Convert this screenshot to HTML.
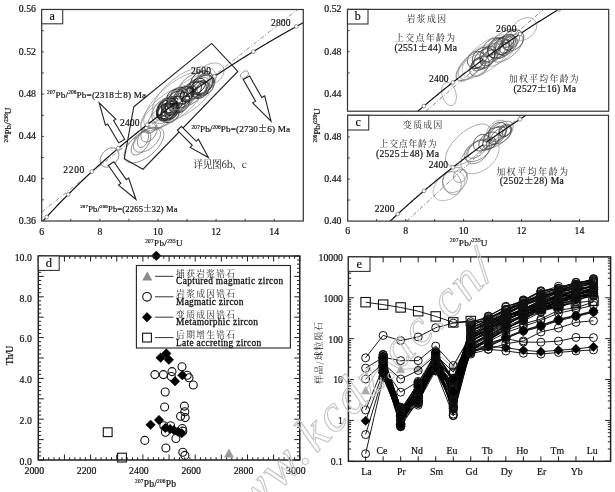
<!DOCTYPE html>
<html><head><meta charset="utf-8"><style>html,body{margin:0;padding:0;background:#fff;}svg{display:block;filter:blur(0.3px);}html,body{overflow:hidden;}</style></head>
<body>
<svg width="615" height="492" viewBox="0 0 615 492" font-family="'Liberation Serif','Noto Serif CJK SC',serif">
<rect width="615" height="492" fill="#fff"/>
<clipPath id="ca"><rect x="41.7" y="9.5" width="261.6" height="211.5"/></clipPath>
<g clip-path="url(#ca)">
<line x1="41.8" y1="211.8" x2="297.5" y2="9.5" stroke="#777" stroke-width="0.8" stroke-dasharray="4,2,1,2"/>
<ellipse cx="178.75" cy="95.29" rx="9.29" ry="6.9" transform="rotate(-41.19 178.75 95.29)" stroke="#151515" stroke-width="0.8" fill="none"/>
<ellipse cx="170.19" cy="104.97" rx="9.57" ry="7.43" transform="rotate(-38.11 170.19 104.97)" stroke="#151515" stroke-width="0.8" fill="none"/>
<ellipse cx="167.7" cy="108.69" rx="11.36" ry="9.02" transform="rotate(-49.37 167.7 108.69)" stroke="#151515" stroke-width="0.8" fill="none"/>
<ellipse cx="203.32" cy="84.92" rx="12.29" ry="9.62" transform="rotate(-40.77 203.32 84.92)" stroke="#151515" stroke-width="0.8" fill="none"/>
<ellipse cx="171.88" cy="109.34" rx="6.86" ry="4.48" transform="rotate(-46.37 171.88 109.34)" stroke="#151515" stroke-width="0.8" fill="none"/>
<ellipse cx="165.66" cy="110.92" rx="9.28" ry="6.72" transform="rotate(-37.36 165.66 110.92)" stroke="#151515" stroke-width="0.8" fill="none"/>
<ellipse cx="183.16" cy="95.83" rx="10.47" ry="7.63" transform="rotate(-45.83 183.16 95.83)" stroke="#151515" stroke-width="0.8" fill="none"/>
<ellipse cx="202.21" cy="82.16" rx="12.47" ry="10.42" transform="rotate(-39.38 202.21 82.16)" stroke="#151515" stroke-width="0.8" fill="none"/>
<ellipse cx="176.39" cy="103" rx="6.92" ry="5.64" transform="rotate(-43.99 176.39 103)" stroke="#151515" stroke-width="0.8" fill="none"/>
<ellipse cx="198.3" cy="89.44" rx="8.82" ry="7.66" transform="rotate(-37.29 198.3 89.44)" stroke="#151515" stroke-width="0.8" fill="none"/>
<ellipse cx="165.14" cy="112.5" rx="9.32" ry="8.15" transform="rotate(-44.04 165.14 112.5)" stroke="#151515" stroke-width="0.8" fill="none"/>
<ellipse cx="169.91" cy="113.27" rx="10.28" ry="8.41" transform="rotate(-45.95 169.91 113.27)" stroke="#151515" stroke-width="0.8" fill="none"/>
<ellipse cx="165.94" cy="106.89" rx="11.05" ry="6.99" transform="rotate(-46.3 165.94 106.89)" stroke="#151515" stroke-width="0.8" fill="none"/>
<ellipse cx="171.11" cy="112.7" rx="6.86" ry="5.65" transform="rotate(-47.33 171.11 112.7)" stroke="#151515" stroke-width="0.8" fill="none"/>
<ellipse cx="184.91" cy="94.95" rx="10.89" ry="6.93" transform="rotate(-40.34 184.91 94.95)" stroke="#151515" stroke-width="0.8" fill="none"/>
<ellipse cx="169.01" cy="108.7" rx="9.02" ry="5.95" transform="rotate(-45.95 169.01 108.7)" stroke="#151515" stroke-width="0.8" fill="none"/>
<ellipse cx="202.68" cy="85" rx="11.81" ry="7.78" transform="rotate(-44.09 202.68 85)" stroke="#151515" stroke-width="0.8" fill="none"/>
<ellipse cx="196.47" cy="86.36" rx="10.35" ry="6.5" transform="rotate(-35.16 196.47 86.36)" stroke="#151515" stroke-width="0.8" fill="none"/>
<ellipse cx="172.25" cy="105.49" rx="8.47" ry="5.79" transform="rotate(-48.9 172.25 105.49)" stroke="#151515" stroke-width="0.8" fill="none"/>
<ellipse cx="170.01" cy="112.08" rx="10" ry="6.68" transform="rotate(-40.98 170.01 112.08)" stroke="#151515" stroke-width="0.8" fill="none"/>
<ellipse cx="175.23" cy="96.99" rx="9.4" ry="7.15" transform="rotate(-37 175.23 96.99)" stroke="#151515" stroke-width="0.8" fill="none"/>
<ellipse cx="172.19" cy="107.78" rx="7.42" ry="6.34" transform="rotate(-37.73 172.19 107.78)" stroke="#151515" stroke-width="0.8" fill="none"/>
<ellipse cx="174.54" cy="105.71" rx="12.14" ry="7.95" transform="rotate(-35.75 174.54 105.71)" stroke="#151515" stroke-width="0.8" fill="none"/>
<ellipse cx="200.68" cy="89.68" rx="10.12" ry="7.27" transform="rotate(-48.44 200.68 89.68)" stroke="#151515" stroke-width="0.8" fill="none"/>
<ellipse cx="166.78" cy="111.74" rx="10.73" ry="7.21" transform="rotate(-37.64 166.78 111.74)" stroke="#151515" stroke-width="0.8" fill="none"/>
<ellipse cx="186.97" cy="94.69" rx="8.26" ry="5.36" transform="rotate(-39.19 186.97 94.69)" stroke="#151515" stroke-width="0.8" fill="none"/>
<ellipse cx="167.18" cy="109.95" rx="11.61" ry="8.97" transform="rotate(-45.8 167.18 109.95)" stroke="#151515" stroke-width="0.8" fill="none"/>
<ellipse cx="201.78" cy="88.24" rx="7.72" ry="4.67" transform="rotate(-45.96 201.78 88.24)" stroke="#151515" stroke-width="0.8" fill="none"/>
<ellipse cx="182.05" cy="100.21" rx="8.71" ry="6.62" transform="rotate(-48.03 182.05 100.21)" stroke="#151515" stroke-width="0.8" fill="none"/>
<ellipse cx="178.36" cy="101.92" rx="11.85" ry="10.36" transform="rotate(-40.15 178.36 101.92)" stroke="#151515" stroke-width="0.8" fill="none"/>
<ellipse cx="190.33" cy="91.51" rx="6.71" ry="4.06" transform="rotate(-36.35 190.33 91.51)" stroke="#151515" stroke-width="0.8" fill="none"/>
<ellipse cx="190.98" cy="91.58" rx="12.28" ry="7.44" transform="rotate(-40.46 190.98 91.58)" stroke="#151515" stroke-width="0.8" fill="none"/>
<ellipse cx="183.32" cy="98.3" rx="16.84" ry="8.65" transform="rotate(-39.81 183.32 98.3)" stroke="#555" stroke-width="0.6" fill="none"/>
<ellipse cx="194.26" cy="85.93" rx="18.2" ry="10.87" transform="rotate(-34.27 194.26 85.93)" stroke="#555" stroke-width="0.6" fill="none"/>
<ellipse cx="177.61" cy="101.37" rx="16.48" ry="10.39" transform="rotate(-36.14 177.61 101.37)" stroke="#555" stroke-width="0.6" fill="none"/>
<ellipse cx="199.84" cy="86.64" rx="15.58" ry="8.96" transform="rotate(-38.87 199.84 86.64)" stroke="#555" stroke-width="0.6" fill="none"/>
<ellipse cx="165.67" cy="110.14" rx="16.12" ry="10.45" transform="rotate(-42.17 165.67 110.14)" stroke="#555" stroke-width="0.6" fill="none"/>
<ellipse cx="195.62" cy="88.69" rx="15.65" ry="8.42" transform="rotate(-36.75 195.62 88.69)" stroke="#555" stroke-width="0.6" fill="none"/>
<ellipse cx="161.37" cy="117.18" rx="15.81" ry="8.64" transform="rotate(-40.54 161.37 117.18)" stroke="#555" stroke-width="0.6" fill="none"/>
<ellipse cx="190.78" cy="93.77" rx="18.36" ry="9.2" transform="rotate(-37.83 190.78 93.77)" stroke="#555" stroke-width="0.6" fill="none"/>
<ellipse cx="167.89" cy="106.27" rx="12.36" ry="7.8" transform="rotate(-34.62 167.89 106.27)" stroke="#555" stroke-width="0.6" fill="none"/>
<ellipse cx="176" cy="100" rx="40" ry="16" transform="rotate(-40 176 100)" stroke="#888" stroke-width="0.6" fill="none"/>
<ellipse cx="168" cy="108" rx="33" ry="13" transform="rotate(-38 168 108)" stroke="#888" stroke-width="0.6" fill="none"/>
<ellipse cx="190" cy="92" rx="26" ry="11" transform="rotate(-36 190 92)" stroke="#888" stroke-width="0.6" fill="none"/>
<ellipse cx="211" cy="74" rx="14" ry="10" transform="rotate(-30 211 74)" stroke="#888" stroke-width="0.6" fill="none"/>
<ellipse cx="158" cy="116" rx="22" ry="10" transform="rotate(-44 158 116)" stroke="#888" stroke-width="0.6" fill="none"/>
<ellipse cx="184" cy="94" rx="38" ry="18" transform="rotate(-38 184 94)" stroke="#888" stroke-width="0.6" fill="none"/>
<ellipse cx="144" cy="145" rx="24" ry="12" transform="rotate(-40 144 145)" stroke="#666" stroke-width="0.65" fill="none"/>
<ellipse cx="147" cy="140" rx="16" ry="9" transform="rotate(-40 147 140)" stroke="#666" stroke-width="0.65" fill="none"/>
<ellipse cx="143" cy="139" rx="9" ry="5" transform="rotate(-70 143 139)" stroke="#666" stroke-width="0.65" fill="none"/>
<ellipse cx="149" cy="132" rx="11" ry="7" transform="rotate(-60 149 132)" stroke="#666" stroke-width="0.65" fill="none"/>
<ellipse cx="150" cy="128" rx="6" ry="5" transform="rotate(-30 150 128)" stroke="#666" stroke-width="0.65" fill="none"/>
<ellipse cx="141" cy="143" rx="14" ry="7" transform="rotate(-55 141 143)" stroke="#666" stroke-width="0.65" fill="none"/>
<ellipse cx="109.5" cy="157.5" rx="11" ry="8" transform="rotate(-48 109.5 157.5)" stroke="#666" stroke-width="0.7" fill="none"/>
<ellipse cx="244.4" cy="74.6" rx="4.6" ry="2.9" transform="rotate(-35 244.4 74.6)" stroke="#777" stroke-width="0.7" fill="none"/>
<polyline points="42.53,221.48 43.54,220.37 44.56,219.25 45.57,218.14 46.6,217.02 47.63,215.9 48.66,214.78 49.7,213.66 50.74,212.54 51.79,211.41 52.85,210.29 53.91,209.17 54.97,208.04 56.04,206.91 57.12,205.79 58.2,204.66 59.28,203.53 60.37,202.4 61.47,201.27 62.57,200.14 63.68,199.01 64.79,197.88 65.91,196.74 67.03,195.61 68.16,194.47 69.3,193.33 70.44,192.2 71.59,191.06 72.74,189.92 73.9,188.78 75.06,187.64 76.23,186.5 77.4,185.35 78.58,184.21 79.77,183.07 80.96,181.92 82.16,180.77 83.36,179.63 84.57,178.48 85.79,177.33 87.01,176.18 88.24,175.03 89.47,173.88 90.71,172.73 91.96,171.57 93.21,170.42 94.47,169.26 95.74,168.11 97.01,166.95 98.29,165.79 99.57,164.63 100.86,163.47 102.16,162.31 103.46,161.15 104.77,159.99 106.08,158.83 107.41,157.66 108.73,156.5 110.07,155.33 111.41,154.16 112.76,153 114.12,151.83 115.48,150.66 116.85,149.49 118.22,148.32 119.6,147.14 120.99,145.97 122.39,144.8 123.79,143.62 125.2,142.44 126.62,141.27 128.04,140.09 129.47,138.91 130.91,137.73 132.35,136.55 133.81,135.37 135.26,134.19 136.73,133 138.2,131.82 139.69,130.63 141.17,129.45 142.67,128.26 144.17,127.07 145.68,125.89 147.2,124.7 148.72,123.5 150.26,122.31 151.8,121.12 153.35,119.93 154.9,118.73 156.46,117.54 158.04,116.34 159.61,115.14 161.2,113.95 162.79,112.75 164.4,111.55 166.01,110.35 167.62,109.14 169.25,107.94 170.88,106.74 172.53,105.53 174.18,104.33 175.84,103.12 177.5,101.91 179.18,100.71 180.86,99.5 182.55,98.29 184.25,97.08 185.96,95.86 187.68,94.65 189.4,93.44 191.13,92.22 192.88,91.01 194.63,89.79 196.39,88.57 198.15,87.35 199.93,86.13 201.72,84.91 203.51,83.69 205.31,82.47 207.13,81.24 208.95,80.02 210.78,78.79 212.62,77.57 214.46,76.34 216.32,75.11 218.19,73.88 220.06,72.65 221.95,71.42 223.84,70.19 225.75,68.96 227.66,67.72 229.58,66.49 231.51,65.25 233.45,64.02 235.41,62.78 237.37,61.54 239.34,60.3 241.32,59.06 243.31,57.82 245.31,56.58 247.31,55.33 249.33,54.09 251.36,52.84 253.4,51.6 255.45,50.35 257.51,49.1 259.58,47.85 261.66,46.6 263.75,45.35 265.85,44.1 267.96,42.84 270.08,41.59 272.22,40.33 274.36,39.08 276.51,37.82 278.68,36.56 280.85,35.3 283.03,34.04 285.23,32.78 287.44,31.52 289.65,30.26 291.88,28.99 294.12,27.73 296.37,26.46 298.63,25.2 300.91,23.93 303.19,22.66 305.49,21.39 307.79,20.12 310.11,18.85 312.44,17.57 314.78,16.3 317.13,15.03 319.5,13.75 321.87,12.47 324.26,11.2 326.66,9.92 329.07,8.64 331.49,7.36 333.93,6.07 336.37,4.79 338.83,3.51 341.31,2.22 343.79,0.94" stroke="#111" stroke-width="1.2" fill="none" />
<circle cx="46.6" cy="217.02" r="1.9" fill="#fff" stroke="#555" stroke-width="0.6"/>
<circle cx="68.16" cy="194.47" r="1.9" fill="#fff" stroke="#555" stroke-width="0.6"/>
<circle cx="91.96" cy="171.57" r="1.9" fill="#fff" stroke="#555" stroke-width="0.6"/>
<circle cx="118.22" cy="148.32" r="1.9" fill="#fff" stroke="#555" stroke-width="0.6"/>
<circle cx="147.2" cy="124.7" r="1.9" fill="#fff" stroke="#555" stroke-width="0.6"/>
<circle cx="179.18" cy="100.71" r="1.9" fill="#fff" stroke="#555" stroke-width="0.6"/>
<circle cx="214.46" cy="76.34" r="1.9" fill="#fff" stroke="#555" stroke-width="0.6"/>
<circle cx="253.4" cy="51.6" r="1.9" fill="#fff" stroke="#555" stroke-width="0.6"/>
<circle cx="296.37" cy="26.46" r="1.9" fill="#fff" stroke="#555" stroke-width="0.6"/>
</g>
<polygon points="133.8,106.8 211.7,43.4 237.8,71.4 143,169.2 124.3,158.7" stroke="#222" stroke-width="1.1" fill="none" />
<polygon points="99.2,102.8 105.42,125.24 107.58,123.97 118.68,142.87 124.72,139.33 113.61,120.43 115.77,119.16" stroke="#222" stroke-width="1.1" fill="#fff" />
<polygon points="271,121.1 264.65,95.95 261.78,97.58 249.53,76.02 243.27,79.58 255.52,101.14 252.65,102.77" stroke="#222" stroke-width="1.1" fill="#fff" />
<polygon points="208.4,157.5 198.42,139.22 196.29,141.34 181.39,126.33 177.41,130.27 192.32,145.28 190.19,147.4" stroke="#222" stroke-width="1.1" fill="#fff" />
<polygon points="135.9,199.3 128.67,178.02 126.29,179.68 113.81,161.72 108.39,165.48 120.87,183.44 118.48,185.1" stroke="#222" stroke-width="1.1" fill="#fff" />
<rect x="41.7" y="9.5" width="261.6" height="211.5" fill="none" stroke="#333" stroke-width="1.2"/>
<line x1="70.77" y1="221" x2="70.77" y2="218.8" stroke="#333" stroke-width="0.9" />
<line x1="99.83" y1="221" x2="99.83" y2="218.8" stroke="#333" stroke-width="0.9" />
<line x1="128.9" y1="221" x2="128.9" y2="218.8" stroke="#333" stroke-width="0.9" />
<line x1="157.97" y1="221" x2="157.97" y2="218.8" stroke="#333" stroke-width="0.9" />
<line x1="187.03" y1="221" x2="187.03" y2="218.8" stroke="#333" stroke-width="0.9" />
<line x1="216.1" y1="221" x2="216.1" y2="218.8" stroke="#333" stroke-width="0.9" />
<line x1="245.17" y1="221" x2="245.17" y2="218.8" stroke="#333" stroke-width="0.9" />
<line x1="274.23" y1="221" x2="274.23" y2="218.8" stroke="#333" stroke-width="0.9" />
<line x1="41.7" y1="199.85" x2="43.9" y2="199.85" stroke="#333" stroke-width="0.9" />
<line x1="41.7" y1="178.7" x2="43.9" y2="178.7" stroke="#333" stroke-width="0.9" />
<line x1="41.7" y1="157.55" x2="43.9" y2="157.55" stroke="#333" stroke-width="0.9" />
<line x1="41.7" y1="136.4" x2="43.9" y2="136.4" stroke="#333" stroke-width="0.9" />
<line x1="41.7" y1="115.25" x2="43.9" y2="115.25" stroke="#333" stroke-width="0.9" />
<line x1="41.7" y1="94.1" x2="43.9" y2="94.1" stroke="#333" stroke-width="0.9" />
<line x1="41.7" y1="72.95" x2="43.9" y2="72.95" stroke="#333" stroke-width="0.9" />
<line x1="41.7" y1="51.8" x2="43.9" y2="51.8" stroke="#333" stroke-width="0.9" />
<line x1="41.7" y1="30.65" x2="43.9" y2="30.65" stroke="#333" stroke-width="0.9" />
<rect x="41.7" y="9.5" width="21" height="14.3" fill="#fff" stroke="#333" stroke-width="1.1"/>
<text x="52.2" y="20.25" font-size="12" text-anchor="middle" fill="#111" stroke="#111" stroke-width="0.2" >a</text>
<text x="36" y="12.3" font-size="9.8" text-anchor="end" fill="#111" stroke="#111" stroke-width="0.2" >0.56</text>
<text x="36" y="54.6" font-size="9.8" text-anchor="end" fill="#111" stroke="#111" stroke-width="0.2" >0.52</text>
<text x="36" y="96.9" font-size="9.8" text-anchor="end" fill="#111" stroke="#111" stroke-width="0.2" >0.48</text>
<text x="36" y="139.2" font-size="9.8" text-anchor="end" fill="#111" stroke="#111" stroke-width="0.2" >0.44</text>
<text x="36" y="181.5" font-size="9.8" text-anchor="end" fill="#111" stroke="#111" stroke-width="0.2" >0.40</text>
<text x="36" y="223.8" font-size="9.8" text-anchor="end" fill="#111" stroke="#111" stroke-width="0.2" >0.36</text>
<text x="41.7" y="235.2" font-size="9.8" text-anchor="middle" fill="#111" stroke="#111" stroke-width="0.2" >6</text>
<text x="99.83" y="235.2" font-size="9.8" text-anchor="middle" fill="#111" stroke="#111" stroke-width="0.2" >8</text>
<text x="157.97" y="235.2" font-size="9.8" text-anchor="middle" fill="#111" stroke="#111" stroke-width="0.2" >10</text>
<text x="216.1" y="235.2" font-size="9.8" text-anchor="middle" fill="#111" stroke="#111" stroke-width="0.2" >12</text>
<text x="274.23" y="235.2" font-size="9.8" text-anchor="middle" fill="#111" stroke="#111" stroke-width="0.2" >14</text>
<text x="145.2" y="246" font-size="9.2" text-anchor="start" fill="#111" stroke="#111" stroke-width="0.2" textLength="37.4"><tspan font-size="5.2" dy="-3.5">207</tspan><tspan dy="3.5">Pb/</tspan><tspan font-size="5.2" dy="-3.5">235</tspan><tspan dy="3.5">U</tspan></text>
<g transform="translate(11.2,142.5) rotate(-90)">
<text x="0" y="0" font-size="9.2" text-anchor="start" fill="#111" stroke="#111" stroke-width="0.2" textLength="35"><tspan font-size="5.2" dy="-3.5">206</tspan><tspan dy="3.5">Pb/</tspan><tspan font-size="5.2" dy="-3.5">238</tspan><tspan dy="3.5">U</tspan></text>
</g>
<text x="63.3" y="172.5" font-size="9.5" text-anchor="start" fill="#111" stroke="#111" stroke-width="0.2" textLength="21">2200</text>
<text x="120" y="126" font-size="9.5" text-anchor="start" fill="#111" stroke="#111" stroke-width="0.2" textLength="19.5">2400</text>
<text x="191" y="73.5" font-size="9.5" text-anchor="start" fill="#111" stroke="#111" stroke-width="0.2" textLength="20">2600</text>
<text x="271" y="26" font-size="9.5" text-anchor="start" fill="#111" stroke="#111" stroke-width="0.2" textLength="19.5">2800</text>
<text x="47.1" y="97.7" font-size="9.2" text-anchor="start" fill="#111" stroke="#111" stroke-width="0.2" textLength="99"><tspan font-size="5.3" dy="-3.5">207</tspan><tspan dy="3.5">Pb/</tspan><tspan font-size="5.3" dy="-3.5">206</tspan><tspan dy="3.5">Pb=(2318<tspan font-family="'Noto Serif CJK SC','Liberation Serif',serif">±</tspan>8) Ma</tspan></text>
<text x="191.6" y="132.4" font-size="9.2" text-anchor="start" fill="#111" stroke="#111" stroke-width="0.2" textLength="98.4"><tspan font-size="5.3" dy="-3.5">207</tspan><tspan dy="3.5">Pb/</tspan><tspan font-size="5.3" dy="-3.5">206</tspan><tspan dy="3.5">Pb=(2730<tspan font-family="'Noto Serif CJK SC','Liberation Serif',serif">±</tspan>6) Ma</tspan></text>
<text x="80.2" y="211.6" font-size="8.6" text-anchor="start" fill="#111" stroke="#111" stroke-width="0.2" textLength="97.5"><tspan font-size="5.0" dy="-3.27">207</tspan><tspan dy="3.27">Pb/</tspan><tspan font-size="5.0" dy="-3.27">206</tspan><tspan dy="3.27">Pb=(2265<tspan font-family="'Noto Serif CJK SC','Liberation Serif',serif">±</tspan>32) Ma</tspan></text>
<text x="193.3" y="168" font-size="9.8" font-family="'Noto Serif CJK SC','Liberation Serif',serif" fill="#111" textLength="53.7">详见图6b、c</text>
<clipPath id="cb"><rect x="347.5" y="9.4" width="261.20000000000005" height="101.8"/></clipPath>
<g clip-path="url(#cb)">
<line x1="426" y1="111.2" x2="543.5" y2="9.4" stroke="#666" stroke-width="0.8" stroke-dasharray="4,2,1,2"/>
<ellipse cx="498.86" cy="48.12" rx="12.15" ry="9.81" transform="rotate(-36.17 498.86 48.12)" stroke="#333" stroke-width="0.7" fill="none"/>
<ellipse cx="476.09" cy="59.84" rx="9.29" ry="8.03" transform="rotate(-40.27 476.09 59.84)" stroke="#333" stroke-width="0.7" fill="none"/>
<ellipse cx="510.15" cy="42.85" rx="7.98" ry="6" transform="rotate(-41.39 510.15 42.85)" stroke="#333" stroke-width="0.7" fill="none"/>
<ellipse cx="478.88" cy="64.65" rx="7.8" ry="5.29" transform="rotate(-36.25 478.88 64.65)" stroke="#333" stroke-width="0.7" fill="none"/>
<ellipse cx="505.37" cy="46.42" rx="7.33" ry="5.67" transform="rotate(-48.1 505.37 46.42)" stroke="#333" stroke-width="0.7" fill="none"/>
<ellipse cx="479.52" cy="66.29" rx="11.73" ry="7.72" transform="rotate(-46.77 479.52 66.29)" stroke="#333" stroke-width="0.7" fill="none"/>
<ellipse cx="512.78" cy="40.33" rx="12.27" ry="9.21" transform="rotate(-39.83 512.78 40.33)" stroke="#333" stroke-width="0.7" fill="none"/>
<ellipse cx="483.61" cy="57.59" rx="12.15" ry="9.64" transform="rotate(-35.5 483.61 57.59)" stroke="#333" stroke-width="0.7" fill="none"/>
<ellipse cx="508.39" cy="41.03" rx="7.5" ry="4.8" transform="rotate(-49.02 508.39 41.03)" stroke="#333" stroke-width="0.7" fill="none"/>
<ellipse cx="488.9" cy="57.84" rx="10.12" ry="6.08" transform="rotate(-39.83 488.9 57.84)" stroke="#333" stroke-width="0.7" fill="none"/>
<ellipse cx="488.07" cy="54.15" rx="9.38" ry="6.46" transform="rotate(-42.78 488.07 54.15)" stroke="#333" stroke-width="0.7" fill="none"/>
<ellipse cx="504.17" cy="49.27" rx="6.84" ry="5.97" transform="rotate(-49.66 504.17 49.27)" stroke="#333" stroke-width="0.7" fill="none"/>
<ellipse cx="503.67" cy="45.31" rx="11.23" ry="7.89" transform="rotate(-41.32 503.67 45.31)" stroke="#333" stroke-width="0.7" fill="none"/>
<ellipse cx="477.57" cy="63.18" rx="6.78" ry="4.41" transform="rotate(-35.67 477.57 63.18)" stroke="#333" stroke-width="0.7" fill="none"/>
<ellipse cx="484.22" cy="58.98" rx="12.15" ry="8.46" transform="rotate(-44.68 484.22 58.98)" stroke="#333" stroke-width="0.7" fill="none"/>
<ellipse cx="492.46" cy="46.66" rx="11.15" ry="7.03" transform="rotate(-38.77 492.46 46.66)" stroke="#333" stroke-width="0.7" fill="none"/>
<ellipse cx="505.48" cy="44.25" rx="12.17" ry="7.62" transform="rotate(-44.89 505.48 44.25)" stroke="#333" stroke-width="0.7" fill="none"/>
<ellipse cx="498.27" cy="48.21" rx="12.01" ry="8.35" transform="rotate(-36.14 498.27 48.21)" stroke="#333" stroke-width="0.7" fill="none"/>
<ellipse cx="495.63" cy="51.6" rx="13.5" ry="6.93" transform="rotate(-45.77 495.63 51.6)" stroke="#555" stroke-width="0.6" fill="none"/>
<ellipse cx="507.41" cy="48.08" rx="18.97" ry="9.15" transform="rotate(-40 507.41 48.08)" stroke="#555" stroke-width="0.6" fill="none"/>
<ellipse cx="490.09" cy="53.31" rx="12.9" ry="7.34" transform="rotate(-41.67 490.09 53.31)" stroke="#555" stroke-width="0.6" fill="none"/>
<ellipse cx="470.14" cy="66.43" rx="18.33" ry="8.37" transform="rotate(-46.04 470.14 66.43)" stroke="#555" stroke-width="0.6" fill="none"/>
<ellipse cx="503.98" cy="44.04" rx="18.6" ry="10.71" transform="rotate(-41.48 503.98 44.04)" stroke="#555" stroke-width="0.6" fill="none"/>
<ellipse cx="478" cy="62" rx="24" ry="11" transform="rotate(-40 478 62)" stroke="#888" stroke-width="0.6" fill="none"/>
<ellipse cx="470" cy="68" rx="17" ry="8" transform="rotate(-45 470 68)" stroke="#888" stroke-width="0.6" fill="none"/>
<ellipse cx="524" cy="29" rx="14" ry="10" transform="rotate(-35 524 29)" stroke="#888" stroke-width="0.6" fill="none"/>
<ellipse cx="449" cy="94" rx="7" ry="12" transform="rotate(-15 449 94)" stroke="#888" stroke-width="0.6" fill="none"/>
<ellipse cx="487" cy="56" rx="30" ry="13" transform="rotate(-38 487 56)" stroke="#999" stroke-width="0.6" fill="none"/>
<ellipse cx="500" cy="52" rx="20" ry="9" transform="rotate(-40 500 52)" stroke="#888" stroke-width="0.6" fill="none"/>
<polyline points="410.47,117.72 411.79,116.55 413.11,115.39 414.43,114.22 415.77,113.05 417.11,111.88 418.45,110.72 419.8,109.55 421.16,108.37 422.53,107.2 423.9,106.03 425.28,104.86 426.67,103.68 428.06,102.51 429.47,101.33 430.87,100.15 432.29,98.97 433.71,97.79 435.14,96.61 436.57,95.43 438.02,94.25 439.46,93.07 440.92,91.88 442.39,90.7 443.86,89.51 445.34,88.33 446.82,87.14 448.31,85.95 449.81,84.76 451.32,83.57 452.84,82.38 454.36,81.19 455.89,80 457.43,78.8 458.97,77.61 460.53,76.41 462.09,75.22 463.66,74.02 465.23,72.82 466.82,71.62 468.41,70.42 470.01,69.22 471.62,68.02 473.23,66.81 474.86,65.61 476.49,64.4 478.13,63.2 479.77,61.99 481.43,60.78 483.09,59.57 484.77,58.36 486.45,57.15 488.14,55.94 489.83,54.73 491.54,53.52 493.25,52.3 494.97,51.09 496.71,49.87 498.44,48.65 500.19,47.43 501.95,46.21 503.71,44.99 505.49,43.77 507.27,42.55 509.06,41.33 510.86,40.1 512.67,38.88 514.49,37.65 516.32,36.43 518.15,35.2 520,33.97 521.85,32.74 523.72,31.51 525.59,30.28 527.47,29.05 529.36,27.81 531.26,26.58 533.17,25.34 535.09,24.11 537.02,22.87 538.96,21.63 540.91,20.39 542.87,19.15 544.83,17.91 546.81,16.67 548.8,15.43 550.79,14.18 552.8,12.94 554.82,11.69 556.84,10.44 558.88,9.2 560.93,7.95 562.98,6.7 565.05,5.45 567.13,4.19 569.21,2.94 571.31,1.69 573.42,0.43 575.54,-0.82 577.66,-2.08 579.8,-3.34 581.95,-4.6 584.11,-5.86 586.28,-7.12 588.47,-8.38 590.66,-9.64 592.86,-10.9 595.07,-12.17 597.3,-13.43 599.54,-14.7 601.78,-15.97" stroke="#111" stroke-width="1.2" fill="none" />
<circle cx="352.39" cy="174.81" r="1.9" fill="#fff" stroke="#555" stroke-width="0.6"/>
<circle cx="373.92" cy="152.24" r="1.9" fill="#fff" stroke="#555" stroke-width="0.6"/>
<circle cx="397.68" cy="129.31" r="1.9" fill="#fff" stroke="#555" stroke-width="0.6"/>
<circle cx="423.9" cy="106.03" r="1.9" fill="#fff" stroke="#555" stroke-width="0.6"/>
<circle cx="452.84" cy="82.38" r="1.9" fill="#fff" stroke="#555" stroke-width="0.6"/>
<circle cx="484.77" cy="58.36" r="1.9" fill="#fff" stroke="#555" stroke-width="0.6"/>
<circle cx="520" cy="33.97" r="1.9" fill="#fff" stroke="#555" stroke-width="0.6"/>
<circle cx="558.88" cy="9.2" r="1.9" fill="#fff" stroke="#555" stroke-width="0.6"/>
<circle cx="601.78" cy="-15.97" r="1.9" fill="#fff" stroke="#555" stroke-width="0.6"/>
</g>
<rect x="347.5" y="9.4" width="261.2" height="101.8" fill="none" stroke="#333" stroke-width="1.2"/>
<line x1="347.5" y1="72.92" x2="349.7" y2="72.92" stroke="#333" stroke-width="0.9" />
<line x1="347.5" y1="51.75" x2="349.7" y2="51.75" stroke="#333" stroke-width="0.9" />
<line x1="347.5" y1="30.57" x2="349.7" y2="30.57" stroke="#333" stroke-width="0.9" />
<line x1="347.5" y1="9.4" x2="349.7" y2="9.4" stroke="#333" stroke-width="0.9" />
<rect x="347.5" y="9.4" width="20.5" height="14.6" fill="#fff" stroke="#333" stroke-width="1.1"/>
<text x="357.75" y="20.3" font-size="12" text-anchor="middle" fill="#111" stroke="#111" stroke-width="0.2" >b</text>
<text x="341.5" y="12.2" font-size="9.8" text-anchor="end" fill="#111" stroke="#111" stroke-width="0.2" >0.52</text>
<text x="341.5" y="54.55" font-size="9.8" text-anchor="end" fill="#111" stroke="#111" stroke-width="0.2" >0.48</text>
<text x="341.5" y="96.9" font-size="9.8" text-anchor="end" fill="#111" stroke="#111" stroke-width="0.2" >0.44</text>
<text x="406.7" y="22" font-size="8.84" font-weight="400" font-family="'Noto Serif CJK SC','Liberation Serif',serif" fill="#222" textLength="39.3" lengthAdjust="spacing">岩浆成因</text>
<text x="395" y="41.3" font-size="8.84" font-weight="400" font-family="'Noto Serif CJK SC','Liberation Serif',serif" fill="#222" textLength="60" lengthAdjust="spacing">上交点年龄为</text>
<text x="394.5" y="50.8" font-size="9.6" text-anchor="start" fill="#111" stroke="#111" stroke-width="0.2" textLength="62.5">(2551<tspan font-family="'Noto Serif CJK SC','Liberation Serif',serif">±</tspan>44) Ma</text>
<text x="429" y="81.5" font-size="9.5" text-anchor="start" fill="#111" stroke="#111" stroke-width="0.2" textLength="19.6">2400</text>
<text x="496" y="32" font-size="9.5" text-anchor="start" fill="#111" stroke="#111" stroke-width="0.2" textLength="20.4">2600</text>
<text x="508.8" y="82" font-size="8.84" font-weight="400" font-family="'Noto Serif CJK SC','Liberation Serif',serif" fill="#222" textLength="69.9" lengthAdjust="spacing">加权平均年龄为</text>
<text x="513.4" y="92" font-size="9.6" text-anchor="start" fill="#111" stroke="#111" stroke-width="0.2" textLength="62.6">(2527<tspan font-family="'Noto Serif CJK SC','Liberation Serif',serif">±</tspan>16) Ma</text>
<clipPath id="cc"><rect x="347.7" y="115.3" width="260.8" height="105.8"/></clipPath>
<g clip-path="url(#cc)">
<line x1="406.7" y1="221.1" x2="521" y2="115.3" stroke="#666" stroke-width="0.8" stroke-dasharray="4,2,1,2"/>
<ellipse cx="493" cy="136.58" rx="11.7" ry="7.04" transform="rotate(-42.46 493 136.58)" stroke="#333" stroke-width="0.7" fill="none"/>
<ellipse cx="505.1" cy="130.25" rx="6.98" ry="5.27" transform="rotate(-40.75 505.1 130.25)" stroke="#333" stroke-width="0.7" fill="none"/>
<ellipse cx="481.59" cy="142.69" rx="9.21" ry="7.4" transform="rotate(-47.64 481.59 142.69)" stroke="#333" stroke-width="0.7" fill="none"/>
<ellipse cx="489.33" cy="143.11" rx="7.17" ry="5.32" transform="rotate(-36.14 489.33 143.11)" stroke="#333" stroke-width="0.7" fill="none"/>
<ellipse cx="496.91" cy="135.27" rx="10.98" ry="6.9" transform="rotate(-45.63 496.91 135.27)" stroke="#333" stroke-width="0.7" fill="none"/>
<ellipse cx="497.55" cy="131.81" rx="10.85" ry="7.79" transform="rotate(-48.68 497.55 131.81)" stroke="#333" stroke-width="0.7" fill="none"/>
<ellipse cx="488.89" cy="141.07" rx="11.36" ry="7.45" transform="rotate(-36.7 488.89 141.07)" stroke="#333" stroke-width="0.7" fill="none"/>
<ellipse cx="505.14" cy="131.28" rx="6.83" ry="4.82" transform="rotate(-42.62 505.14 131.28)" stroke="#333" stroke-width="0.7" fill="none"/>
<ellipse cx="477.79" cy="151.77" rx="14.4" ry="9.09" transform="rotate(-46.18 477.79 151.77)" stroke="#555" stroke-width="0.6" fill="none"/>
<ellipse cx="498.05" cy="134.7" rx="18.16" ry="8.91" transform="rotate(-39.9 498.05 134.7)" stroke="#555" stroke-width="0.6" fill="none"/>
<ellipse cx="477.35" cy="149.2" rx="11.68" ry="6.42" transform="rotate(-42.03 477.35 149.2)" stroke="#555" stroke-width="0.6" fill="none"/>
<ellipse cx="500.9" cy="135.41" rx="11.75" ry="6.65" transform="rotate(-33.63 500.9 135.41)" stroke="#555" stroke-width="0.6" fill="none"/>
<ellipse cx="477.83" cy="150.46" rx="15.44" ry="8.82" transform="rotate(-33.08 477.83 150.46)" stroke="#555" stroke-width="0.6" fill="none"/>
<ellipse cx="468" cy="145" rx="28" ry="13" transform="rotate(-42 468 145)" stroke="#777" stroke-width="0.6" fill="none"/>
<ellipse cx="480" cy="156" rx="22" ry="14" transform="rotate(-40 480 156)" stroke="#888" stroke-width="0.6" fill="none"/>
<ellipse cx="455" cy="180" rx="14" ry="11" transform="rotate(-45 455 180)" stroke="#777" stroke-width="0.6" fill="none"/>
<ellipse cx="452" cy="183" rx="9" ry="12" transform="rotate(-20 452 183)" stroke="#777" stroke-width="0.6" fill="none"/>
<ellipse cx="460" cy="176" rx="7" ry="6" transform="rotate(-40 460 176)" stroke="#777" stroke-width="0.6" fill="none"/>
<ellipse cx="497" cy="130" rx="12" ry="8" transform="rotate(-40 497 130)" stroke="#888" stroke-width="0.6" fill="none"/>
<ellipse cx="449" cy="186" rx="18" ry="12" transform="rotate(-40 449 186)" stroke="#999" stroke-width="0.6" fill="none"/>
<polyline points="385.65,225.45 386.84,224.31 388.04,223.16 389.24,222.02 390.44,220.88 391.66,219.74 392.87,218.59 394.1,217.45 395.33,216.3 396.56,215.15 397.81,214.01 399.06,212.86 400.31,211.71 401.57,210.56 402.84,209.41 404.11,208.25 405.39,207.1 406.68,205.95 407.97,204.79 409.27,203.63 410.58,202.48 411.89,201.32 413.21,200.16 414.53,199 415.86,197.84 417.2,196.68 418.54,195.52 419.89,194.35 421.25,193.19 422.62,192.03 423.99,190.86 425.37,189.69 426.75,188.52 428.14,187.36 429.54,186.19 430.95,185.02 432.36,183.84 433.78,182.67 435.2,181.5 436.64,180.33 438.08,179.15 439.52,177.97 440.98,176.8 442.44,175.62 443.91,174.44 445.39,173.26 446.87,172.08 448.36,170.9 449.86,169.72 451.36,168.53 452.88,167.35 454.4,166.17 455.93,164.98 457.46,163.79 459,162.61 460.55,161.42 462.11,160.23 463.68,159.04 465.25,157.84 466.83,156.65 468.42,155.46 470.02,154.26 471.63,153.07 473.24,151.87 474.86,150.68 476.49,149.48 478.13,148.28 479.77,147.08 481.43,145.88 483.09,144.68 484.76,143.47 486.43,142.27 488.12,141.07 489.82,139.86 491.52,138.65 493.23,137.45 494.95,136.24 496.68,135.03 498.41,133.82 500.16,132.61 501.91,131.4 503.68,130.18 505.45,128.97 507.23,127.76 509.02,126.54 510.81,125.32 512.62,124.11 514.44,122.89 516.26,121.67 518.09,120.45 519.94,119.23 521.79,118 523.65,116.78 525.52,115.56 527.4,114.33 529.29,113.1 531.18,111.88 533.09,110.65 535.01,109.42 536.93,108.19 538.87,106.96 540.81,105.73 542.77,104.49 544.73,103.26 546.71,102.03 548.69,100.79 550.68,99.55 552.69,98.32 554.7,97.08 556.72,95.84 558.76,94.6" stroke="#111" stroke-width="1.2" fill="none" />
<circle cx="352.58" cy="259.24" r="1.9" fill="#fff" stroke="#555" stroke-width="0.6"/>
<circle cx="374.08" cy="236.8" r="1.9" fill="#fff" stroke="#555" stroke-width="0.6"/>
<circle cx="397.81" cy="214.01" r="1.9" fill="#fff" stroke="#555" stroke-width="0.6"/>
<circle cx="423.99" cy="190.86" r="1.9" fill="#fff" stroke="#555" stroke-width="0.6"/>
<circle cx="452.88" cy="167.35" r="1.9" fill="#fff" stroke="#555" stroke-width="0.6"/>
<circle cx="484.76" cy="143.47" r="1.9" fill="#fff" stroke="#555" stroke-width="0.6"/>
<circle cx="519.94" cy="119.23" r="1.9" fill="#fff" stroke="#555" stroke-width="0.6"/>
<circle cx="558.76" cy="94.6" r="1.9" fill="#fff" stroke="#555" stroke-width="0.6"/>
<circle cx="601.59" cy="69.58" r="1.9" fill="#fff" stroke="#555" stroke-width="0.6"/>
</g>
<rect x="347.7" y="115.3" width="260.8" height="105.8" fill="none" stroke="#333" stroke-width="1.2"/>
<line x1="347.7" y1="200.05" x2="349.9" y2="200.05" stroke="#333" stroke-width="0.9" />
<line x1="347.7" y1="179" x2="349.9" y2="179" stroke="#333" stroke-width="0.9" />
<line x1="347.7" y1="157.95" x2="349.9" y2="157.95" stroke="#333" stroke-width="0.9" />
<line x1="347.7" y1="136.9" x2="349.9" y2="136.9" stroke="#333" stroke-width="0.9" />
<line x1="376.68" y1="221.1" x2="376.68" y2="218.9" stroke="#333" stroke-width="0.9" />
<line x1="405.66" y1="221.1" x2="405.66" y2="218.9" stroke="#333" stroke-width="0.9" />
<line x1="434.63" y1="221.1" x2="434.63" y2="218.9" stroke="#333" stroke-width="0.9" />
<line x1="463.61" y1="221.1" x2="463.61" y2="218.9" stroke="#333" stroke-width="0.9" />
<line x1="492.59" y1="221.1" x2="492.59" y2="218.9" stroke="#333" stroke-width="0.9" />
<line x1="521.57" y1="221.1" x2="521.57" y2="218.9" stroke="#333" stroke-width="0.9" />
<line x1="550.54" y1="221.1" x2="550.54" y2="218.9" stroke="#333" stroke-width="0.9" />
<line x1="579.52" y1="221.1" x2="579.52" y2="218.9" stroke="#333" stroke-width="0.9" />
<rect x="347.7" y="115.3" width="21" height="14.7" fill="#fff" stroke="#333" stroke-width="1.1"/>
<text x="358.2" y="126.25" font-size="12" text-anchor="middle" fill="#111" stroke="#111" stroke-width="0.2" >c</text>
<text x="341.5" y="139.7" font-size="9.8" text-anchor="end" fill="#111" stroke="#111" stroke-width="0.2" >0.48</text>
<text x="341.5" y="181.8" font-size="9.8" text-anchor="end" fill="#111" stroke="#111" stroke-width="0.2" >0.44</text>
<text x="341.5" y="223.9" font-size="9.8" text-anchor="end" fill="#111" stroke="#111" stroke-width="0.2" >0.40</text>
<text x="347.7" y="233.6" font-size="9.8" text-anchor="middle" fill="#111" stroke="#111" stroke-width="0.2" >6</text>
<text x="405.66" y="233.6" font-size="9.8" text-anchor="middle" fill="#111" stroke="#111" stroke-width="0.2" >8</text>
<text x="463.61" y="233.6" font-size="9.8" text-anchor="middle" fill="#111" stroke="#111" stroke-width="0.2" >10</text>
<text x="521.57" y="233.6" font-size="9.8" text-anchor="middle" fill="#111" stroke="#111" stroke-width="0.2" >12</text>
<text x="579.52" y="233.6" font-size="9.8" text-anchor="middle" fill="#111" stroke="#111" stroke-width="0.2" >14</text>
<text x="450.1" y="245.6" font-size="9.2" text-anchor="start" fill="#111" stroke="#111" stroke-width="0.2" textLength="37.4"><tspan font-size="5.2" dy="-3.5">207</tspan><tspan dy="3.5">Pb/</tspan><tspan font-size="5.2" dy="-3.5">235</tspan><tspan dy="3.5">U</tspan></text>
<g transform="translate(320.3,142.5) rotate(-90)">
<text x="0" y="0" font-size="9.2" text-anchor="start" fill="#111" stroke="#111" stroke-width="0.2" textLength="34.1"><tspan font-size="5.2" dy="-3.5">206</tspan><tspan dy="3.5">Pb/</tspan><tspan font-size="5.2" dy="-3.5">238</tspan><tspan dy="3.5">U</tspan></text>
</g>
<text x="403" y="128" font-size="8.84" font-weight="400" font-family="'Noto Serif CJK SC','Liberation Serif',serif" fill="#222" textLength="39.4" lengthAdjust="spacing">变质成因</text>
<text x="379.5" y="146.5" font-size="8.84" font-weight="400" font-family="'Noto Serif CJK SC','Liberation Serif',serif" fill="#222" textLength="57" lengthAdjust="spacing">上交点年龄为</text>
<text x="376" y="157" font-size="9.6" text-anchor="start" fill="#111" stroke="#111" stroke-width="0.2" textLength="63">(2525<tspan font-family="'Noto Serif CJK SC','Liberation Serif',serif">±</tspan>48) Ma</text>
<text x="428.7" y="167.5" font-size="9.5" text-anchor="start" fill="#111" stroke="#111" stroke-width="0.2" textLength="19.3">2400</text>
<text x="374.7" y="212.2" font-size="9.5" text-anchor="start" fill="#111" stroke="#111" stroke-width="0.2" textLength="19.9">2200</text>
<text x="496.4" y="175" font-size="8.84" font-weight="400" font-family="'Noto Serif CJK SC','Liberation Serif',serif" fill="#222" textLength="71.6" lengthAdjust="spacing">加权平均年龄为</text>
<text x="499.8" y="184" font-size="9.6" text-anchor="start" fill="#111" stroke="#111" stroke-width="0.2" textLength="64">(2502<tspan font-family="'Noto Serif CJK SC','Liberation Serif',serif">±</tspan>28) Ma</text>
<line x1="38.3" y1="460" x2="38.3" y2="454.5" stroke="#222" stroke-width="1.0" />
<line x1="38.3" y1="256" x2="38.3" y2="261.5" stroke="#222" stroke-width="1.0" />
<line x1="43.53" y1="460" x2="43.53" y2="457.2" stroke="#222" stroke-width="1.0" />
<line x1="43.53" y1="256" x2="43.53" y2="258.8" stroke="#222" stroke-width="1.0" />
<line x1="48.76" y1="460" x2="48.76" y2="457.2" stroke="#222" stroke-width="1.0" />
<line x1="48.76" y1="256" x2="48.76" y2="258.8" stroke="#222" stroke-width="1.0" />
<line x1="53.99" y1="460" x2="53.99" y2="457.2" stroke="#222" stroke-width="1.0" />
<line x1="53.99" y1="256" x2="53.99" y2="258.8" stroke="#222" stroke-width="1.0" />
<line x1="59.22" y1="460" x2="59.22" y2="457.2" stroke="#222" stroke-width="1.0" />
<line x1="59.22" y1="256" x2="59.22" y2="258.8" stroke="#222" stroke-width="1.0" />
<line x1="64.45" y1="460" x2="64.45" y2="454.5" stroke="#222" stroke-width="1.0" />
<line x1="64.45" y1="256" x2="64.45" y2="261.5" stroke="#222" stroke-width="1.0" />
<line x1="69.68" y1="460" x2="69.68" y2="457.2" stroke="#222" stroke-width="1.0" />
<line x1="69.68" y1="256" x2="69.68" y2="258.8" stroke="#222" stroke-width="1.0" />
<line x1="74.91" y1="460" x2="74.91" y2="457.2" stroke="#222" stroke-width="1.0" />
<line x1="74.91" y1="256" x2="74.91" y2="258.8" stroke="#222" stroke-width="1.0" />
<line x1="80.14" y1="460" x2="80.14" y2="457.2" stroke="#222" stroke-width="1.0" />
<line x1="80.14" y1="256" x2="80.14" y2="258.8" stroke="#222" stroke-width="1.0" />
<line x1="85.37" y1="460" x2="85.37" y2="457.2" stroke="#222" stroke-width="1.0" />
<line x1="85.37" y1="256" x2="85.37" y2="258.8" stroke="#222" stroke-width="1.0" />
<line x1="90.6" y1="460" x2="90.6" y2="454.5" stroke="#222" stroke-width="1.0" />
<line x1="90.6" y1="256" x2="90.6" y2="261.5" stroke="#222" stroke-width="1.0" />
<line x1="95.83" y1="460" x2="95.83" y2="457.2" stroke="#222" stroke-width="1.0" />
<line x1="95.83" y1="256" x2="95.83" y2="258.8" stroke="#222" stroke-width="1.0" />
<line x1="101.06" y1="460" x2="101.06" y2="457.2" stroke="#222" stroke-width="1.0" />
<line x1="101.06" y1="256" x2="101.06" y2="258.8" stroke="#222" stroke-width="1.0" />
<line x1="106.29" y1="460" x2="106.29" y2="457.2" stroke="#222" stroke-width="1.0" />
<line x1="106.29" y1="256" x2="106.29" y2="258.8" stroke="#222" stroke-width="1.0" />
<line x1="111.52" y1="460" x2="111.52" y2="457.2" stroke="#222" stroke-width="1.0" />
<line x1="111.52" y1="256" x2="111.52" y2="258.8" stroke="#222" stroke-width="1.0" />
<line x1="116.75" y1="460" x2="116.75" y2="454.5" stroke="#222" stroke-width="1.0" />
<line x1="116.75" y1="256" x2="116.75" y2="261.5" stroke="#222" stroke-width="1.0" />
<line x1="121.98" y1="460" x2="121.98" y2="457.2" stroke="#222" stroke-width="1.0" />
<line x1="121.98" y1="256" x2="121.98" y2="258.8" stroke="#222" stroke-width="1.0" />
<line x1="127.21" y1="460" x2="127.21" y2="457.2" stroke="#222" stroke-width="1.0" />
<line x1="127.21" y1="256" x2="127.21" y2="258.8" stroke="#222" stroke-width="1.0" />
<line x1="132.44" y1="460" x2="132.44" y2="457.2" stroke="#222" stroke-width="1.0" />
<line x1="132.44" y1="256" x2="132.44" y2="258.8" stroke="#222" stroke-width="1.0" />
<line x1="137.67" y1="460" x2="137.67" y2="457.2" stroke="#222" stroke-width="1.0" />
<line x1="137.67" y1="256" x2="137.67" y2="258.8" stroke="#222" stroke-width="1.0" />
<line x1="142.9" y1="460" x2="142.9" y2="454.5" stroke="#222" stroke-width="1.0" />
<line x1="142.9" y1="256" x2="142.9" y2="261.5" stroke="#222" stroke-width="1.0" />
<line x1="148.13" y1="460" x2="148.13" y2="457.2" stroke="#222" stroke-width="1.0" />
<line x1="148.13" y1="256" x2="148.13" y2="258.8" stroke="#222" stroke-width="1.0" />
<line x1="153.36" y1="460" x2="153.36" y2="457.2" stroke="#222" stroke-width="1.0" />
<line x1="153.36" y1="256" x2="153.36" y2="258.8" stroke="#222" stroke-width="1.0" />
<line x1="158.59" y1="460" x2="158.59" y2="457.2" stroke="#222" stroke-width="1.0" />
<line x1="158.59" y1="256" x2="158.59" y2="258.8" stroke="#222" stroke-width="1.0" />
<line x1="163.82" y1="460" x2="163.82" y2="457.2" stroke="#222" stroke-width="1.0" />
<line x1="163.82" y1="256" x2="163.82" y2="258.8" stroke="#222" stroke-width="1.0" />
<line x1="169.05" y1="460" x2="169.05" y2="454.5" stroke="#222" stroke-width="1.0" />
<line x1="169.05" y1="256" x2="169.05" y2="261.5" stroke="#222" stroke-width="1.0" />
<line x1="174.28" y1="460" x2="174.28" y2="457.2" stroke="#222" stroke-width="1.0" />
<line x1="174.28" y1="256" x2="174.28" y2="258.8" stroke="#222" stroke-width="1.0" />
<line x1="179.51" y1="460" x2="179.51" y2="457.2" stroke="#222" stroke-width="1.0" />
<line x1="179.51" y1="256" x2="179.51" y2="258.8" stroke="#222" stroke-width="1.0" />
<line x1="184.74" y1="460" x2="184.74" y2="457.2" stroke="#222" stroke-width="1.0" />
<line x1="184.74" y1="256" x2="184.74" y2="258.8" stroke="#222" stroke-width="1.0" />
<line x1="189.97" y1="460" x2="189.97" y2="457.2" stroke="#222" stroke-width="1.0" />
<line x1="189.97" y1="256" x2="189.97" y2="258.8" stroke="#222" stroke-width="1.0" />
<line x1="195.2" y1="460" x2="195.2" y2="454.5" stroke="#222" stroke-width="1.0" />
<line x1="195.2" y1="256" x2="195.2" y2="261.5" stroke="#222" stroke-width="1.0" />
<line x1="200.43" y1="460" x2="200.43" y2="457.2" stroke="#222" stroke-width="1.0" />
<line x1="200.43" y1="256" x2="200.43" y2="258.8" stroke="#222" stroke-width="1.0" />
<line x1="205.66" y1="460" x2="205.66" y2="457.2" stroke="#222" stroke-width="1.0" />
<line x1="205.66" y1="256" x2="205.66" y2="258.8" stroke="#222" stroke-width="1.0" />
<line x1="210.89" y1="460" x2="210.89" y2="457.2" stroke="#222" stroke-width="1.0" />
<line x1="210.89" y1="256" x2="210.89" y2="258.8" stroke="#222" stroke-width="1.0" />
<line x1="216.12" y1="460" x2="216.12" y2="457.2" stroke="#222" stroke-width="1.0" />
<line x1="216.12" y1="256" x2="216.12" y2="258.8" stroke="#222" stroke-width="1.0" />
<line x1="221.35" y1="460" x2="221.35" y2="454.5" stroke="#222" stroke-width="1.0" />
<line x1="221.35" y1="256" x2="221.35" y2="261.5" stroke="#222" stroke-width="1.0" />
<line x1="226.58" y1="460" x2="226.58" y2="457.2" stroke="#222" stroke-width="1.0" />
<line x1="226.58" y1="256" x2="226.58" y2="258.8" stroke="#222" stroke-width="1.0" />
<line x1="231.81" y1="460" x2="231.81" y2="457.2" stroke="#222" stroke-width="1.0" />
<line x1="231.81" y1="256" x2="231.81" y2="258.8" stroke="#222" stroke-width="1.0" />
<line x1="237.04" y1="460" x2="237.04" y2="457.2" stroke="#222" stroke-width="1.0" />
<line x1="237.04" y1="256" x2="237.04" y2="258.8" stroke="#222" stroke-width="1.0" />
<line x1="242.27" y1="460" x2="242.27" y2="457.2" stroke="#222" stroke-width="1.0" />
<line x1="242.27" y1="256" x2="242.27" y2="258.8" stroke="#222" stroke-width="1.0" />
<line x1="247.5" y1="460" x2="247.5" y2="454.5" stroke="#222" stroke-width="1.0" />
<line x1="247.5" y1="256" x2="247.5" y2="261.5" stroke="#222" stroke-width="1.0" />
<line x1="252.73" y1="460" x2="252.73" y2="457.2" stroke="#222" stroke-width="1.0" />
<line x1="252.73" y1="256" x2="252.73" y2="258.8" stroke="#222" stroke-width="1.0" />
<line x1="257.96" y1="460" x2="257.96" y2="457.2" stroke="#222" stroke-width="1.0" />
<line x1="257.96" y1="256" x2="257.96" y2="258.8" stroke="#222" stroke-width="1.0" />
<line x1="263.19" y1="460" x2="263.19" y2="457.2" stroke="#222" stroke-width="1.0" />
<line x1="263.19" y1="256" x2="263.19" y2="258.8" stroke="#222" stroke-width="1.0" />
<line x1="268.42" y1="460" x2="268.42" y2="457.2" stroke="#222" stroke-width="1.0" />
<line x1="268.42" y1="256" x2="268.42" y2="258.8" stroke="#222" stroke-width="1.0" />
<line x1="273.65" y1="460" x2="273.65" y2="454.5" stroke="#222" stroke-width="1.0" />
<line x1="273.65" y1="256" x2="273.65" y2="261.5" stroke="#222" stroke-width="1.0" />
<line x1="278.88" y1="460" x2="278.88" y2="457.2" stroke="#222" stroke-width="1.0" />
<line x1="278.88" y1="256" x2="278.88" y2="258.8" stroke="#222" stroke-width="1.0" />
<line x1="284.11" y1="460" x2="284.11" y2="457.2" stroke="#222" stroke-width="1.0" />
<line x1="284.11" y1="256" x2="284.11" y2="258.8" stroke="#222" stroke-width="1.0" />
<line x1="289.34" y1="460" x2="289.34" y2="457.2" stroke="#222" stroke-width="1.0" />
<line x1="289.34" y1="256" x2="289.34" y2="258.8" stroke="#222" stroke-width="1.0" />
<line x1="294.57" y1="460" x2="294.57" y2="457.2" stroke="#222" stroke-width="1.0" />
<line x1="294.57" y1="256" x2="294.57" y2="258.8" stroke="#222" stroke-width="1.0" />
<line x1="299.8" y1="460" x2="299.8" y2="454.5" stroke="#222" stroke-width="1.0" />
<line x1="299.8" y1="256" x2="299.8" y2="261.5" stroke="#222" stroke-width="1.0" />
<line x1="38.3" y1="460" x2="43.8" y2="460" stroke="#222" stroke-width="1.0" />
<line x1="299.8" y1="460" x2="294.3" y2="460" stroke="#222" stroke-width="1.0" />
<line x1="38.3" y1="455.92" x2="41.1" y2="455.92" stroke="#222" stroke-width="1.0" />
<line x1="299.8" y1="455.92" x2="297" y2="455.92" stroke="#222" stroke-width="1.0" />
<line x1="38.3" y1="451.84" x2="41.1" y2="451.84" stroke="#222" stroke-width="1.0" />
<line x1="299.8" y1="451.84" x2="297" y2="451.84" stroke="#222" stroke-width="1.0" />
<line x1="38.3" y1="447.76" x2="41.1" y2="447.76" stroke="#222" stroke-width="1.0" />
<line x1="299.8" y1="447.76" x2="297" y2="447.76" stroke="#222" stroke-width="1.0" />
<line x1="38.3" y1="443.68" x2="41.1" y2="443.68" stroke="#222" stroke-width="1.0" />
<line x1="299.8" y1="443.68" x2="297" y2="443.68" stroke="#222" stroke-width="1.0" />
<line x1="38.3" y1="439.6" x2="43.8" y2="439.6" stroke="#222" stroke-width="1.0" />
<line x1="299.8" y1="439.6" x2="294.3" y2="439.6" stroke="#222" stroke-width="1.0" />
<line x1="38.3" y1="435.52" x2="41.1" y2="435.52" stroke="#222" stroke-width="1.0" />
<line x1="299.8" y1="435.52" x2="297" y2="435.52" stroke="#222" stroke-width="1.0" />
<line x1="38.3" y1="431.44" x2="41.1" y2="431.44" stroke="#222" stroke-width="1.0" />
<line x1="299.8" y1="431.44" x2="297" y2="431.44" stroke="#222" stroke-width="1.0" />
<line x1="38.3" y1="427.36" x2="41.1" y2="427.36" stroke="#222" stroke-width="1.0" />
<line x1="299.8" y1="427.36" x2="297" y2="427.36" stroke="#222" stroke-width="1.0" />
<line x1="38.3" y1="423.28" x2="41.1" y2="423.28" stroke="#222" stroke-width="1.0" />
<line x1="299.8" y1="423.28" x2="297" y2="423.28" stroke="#222" stroke-width="1.0" />
<line x1="38.3" y1="419.2" x2="43.8" y2="419.2" stroke="#222" stroke-width="1.0" />
<line x1="299.8" y1="419.2" x2="294.3" y2="419.2" stroke="#222" stroke-width="1.0" />
<line x1="38.3" y1="415.12" x2="41.1" y2="415.12" stroke="#222" stroke-width="1.0" />
<line x1="299.8" y1="415.12" x2="297" y2="415.12" stroke="#222" stroke-width="1.0" />
<line x1="38.3" y1="411.04" x2="41.1" y2="411.04" stroke="#222" stroke-width="1.0" />
<line x1="299.8" y1="411.04" x2="297" y2="411.04" stroke="#222" stroke-width="1.0" />
<line x1="38.3" y1="406.96" x2="41.1" y2="406.96" stroke="#222" stroke-width="1.0" />
<line x1="299.8" y1="406.96" x2="297" y2="406.96" stroke="#222" stroke-width="1.0" />
<line x1="38.3" y1="402.88" x2="41.1" y2="402.88" stroke="#222" stroke-width="1.0" />
<line x1="299.8" y1="402.88" x2="297" y2="402.88" stroke="#222" stroke-width="1.0" />
<line x1="38.3" y1="398.8" x2="43.8" y2="398.8" stroke="#222" stroke-width="1.0" />
<line x1="299.8" y1="398.8" x2="294.3" y2="398.8" stroke="#222" stroke-width="1.0" />
<line x1="38.3" y1="394.72" x2="41.1" y2="394.72" stroke="#222" stroke-width="1.0" />
<line x1="299.8" y1="394.72" x2="297" y2="394.72" stroke="#222" stroke-width="1.0" />
<line x1="38.3" y1="390.64" x2="41.1" y2="390.64" stroke="#222" stroke-width="1.0" />
<line x1="299.8" y1="390.64" x2="297" y2="390.64" stroke="#222" stroke-width="1.0" />
<line x1="38.3" y1="386.56" x2="41.1" y2="386.56" stroke="#222" stroke-width="1.0" />
<line x1="299.8" y1="386.56" x2="297" y2="386.56" stroke="#222" stroke-width="1.0" />
<line x1="38.3" y1="382.48" x2="41.1" y2="382.48" stroke="#222" stroke-width="1.0" />
<line x1="299.8" y1="382.48" x2="297" y2="382.48" stroke="#222" stroke-width="1.0" />
<line x1="38.3" y1="378.4" x2="43.8" y2="378.4" stroke="#222" stroke-width="1.0" />
<line x1="299.8" y1="378.4" x2="294.3" y2="378.4" stroke="#222" stroke-width="1.0" />
<line x1="38.3" y1="374.32" x2="41.1" y2="374.32" stroke="#222" stroke-width="1.0" />
<line x1="299.8" y1="374.32" x2="297" y2="374.32" stroke="#222" stroke-width="1.0" />
<line x1="38.3" y1="370.24" x2="41.1" y2="370.24" stroke="#222" stroke-width="1.0" />
<line x1="299.8" y1="370.24" x2="297" y2="370.24" stroke="#222" stroke-width="1.0" />
<line x1="38.3" y1="366.16" x2="41.1" y2="366.16" stroke="#222" stroke-width="1.0" />
<line x1="299.8" y1="366.16" x2="297" y2="366.16" stroke="#222" stroke-width="1.0" />
<line x1="38.3" y1="362.08" x2="41.1" y2="362.08" stroke="#222" stroke-width="1.0" />
<line x1="299.8" y1="362.08" x2="297" y2="362.08" stroke="#222" stroke-width="1.0" />
<line x1="38.3" y1="358" x2="43.8" y2="358" stroke="#222" stroke-width="1.0" />
<line x1="299.8" y1="358" x2="294.3" y2="358" stroke="#222" stroke-width="1.0" />
<line x1="38.3" y1="353.92" x2="41.1" y2="353.92" stroke="#222" stroke-width="1.0" />
<line x1="299.8" y1="353.92" x2="297" y2="353.92" stroke="#222" stroke-width="1.0" />
<line x1="38.3" y1="349.84" x2="41.1" y2="349.84" stroke="#222" stroke-width="1.0" />
<line x1="299.8" y1="349.84" x2="297" y2="349.84" stroke="#222" stroke-width="1.0" />
<line x1="38.3" y1="345.76" x2="41.1" y2="345.76" stroke="#222" stroke-width="1.0" />
<line x1="299.8" y1="345.76" x2="297" y2="345.76" stroke="#222" stroke-width="1.0" />
<line x1="38.3" y1="341.68" x2="41.1" y2="341.68" stroke="#222" stroke-width="1.0" />
<line x1="299.8" y1="341.68" x2="297" y2="341.68" stroke="#222" stroke-width="1.0" />
<line x1="38.3" y1="337.6" x2="43.8" y2="337.6" stroke="#222" stroke-width="1.0" />
<line x1="299.8" y1="337.6" x2="294.3" y2="337.6" stroke="#222" stroke-width="1.0" />
<line x1="38.3" y1="333.52" x2="41.1" y2="333.52" stroke="#222" stroke-width="1.0" />
<line x1="299.8" y1="333.52" x2="297" y2="333.52" stroke="#222" stroke-width="1.0" />
<line x1="38.3" y1="329.44" x2="41.1" y2="329.44" stroke="#222" stroke-width="1.0" />
<line x1="299.8" y1="329.44" x2="297" y2="329.44" stroke="#222" stroke-width="1.0" />
<line x1="38.3" y1="325.36" x2="41.1" y2="325.36" stroke="#222" stroke-width="1.0" />
<line x1="299.8" y1="325.36" x2="297" y2="325.36" stroke="#222" stroke-width="1.0" />
<line x1="38.3" y1="321.28" x2="41.1" y2="321.28" stroke="#222" stroke-width="1.0" />
<line x1="299.8" y1="321.28" x2="297" y2="321.28" stroke="#222" stroke-width="1.0" />
<line x1="38.3" y1="317.2" x2="43.8" y2="317.2" stroke="#222" stroke-width="1.0" />
<line x1="299.8" y1="317.2" x2="294.3" y2="317.2" stroke="#222" stroke-width="1.0" />
<line x1="38.3" y1="313.12" x2="41.1" y2="313.12" stroke="#222" stroke-width="1.0" />
<line x1="299.8" y1="313.12" x2="297" y2="313.12" stroke="#222" stroke-width="1.0" />
<line x1="38.3" y1="309.04" x2="41.1" y2="309.04" stroke="#222" stroke-width="1.0" />
<line x1="299.8" y1="309.04" x2="297" y2="309.04" stroke="#222" stroke-width="1.0" />
<line x1="38.3" y1="304.96" x2="41.1" y2="304.96" stroke="#222" stroke-width="1.0" />
<line x1="299.8" y1="304.96" x2="297" y2="304.96" stroke="#222" stroke-width="1.0" />
<line x1="38.3" y1="300.88" x2="41.1" y2="300.88" stroke="#222" stroke-width="1.0" />
<line x1="299.8" y1="300.88" x2="297" y2="300.88" stroke="#222" stroke-width="1.0" />
<line x1="38.3" y1="296.8" x2="43.8" y2="296.8" stroke="#222" stroke-width="1.0" />
<line x1="299.8" y1="296.8" x2="294.3" y2="296.8" stroke="#222" stroke-width="1.0" />
<line x1="38.3" y1="292.72" x2="41.1" y2="292.72" stroke="#222" stroke-width="1.0" />
<line x1="299.8" y1="292.72" x2="297" y2="292.72" stroke="#222" stroke-width="1.0" />
<line x1="38.3" y1="288.64" x2="41.1" y2="288.64" stroke="#222" stroke-width="1.0" />
<line x1="299.8" y1="288.64" x2="297" y2="288.64" stroke="#222" stroke-width="1.0" />
<line x1="38.3" y1="284.56" x2="41.1" y2="284.56" stroke="#222" stroke-width="1.0" />
<line x1="299.8" y1="284.56" x2="297" y2="284.56" stroke="#222" stroke-width="1.0" />
<line x1="38.3" y1="280.48" x2="41.1" y2="280.48" stroke="#222" stroke-width="1.0" />
<line x1="299.8" y1="280.48" x2="297" y2="280.48" stroke="#222" stroke-width="1.0" />
<line x1="38.3" y1="276.4" x2="43.8" y2="276.4" stroke="#222" stroke-width="1.0" />
<line x1="299.8" y1="276.4" x2="294.3" y2="276.4" stroke="#222" stroke-width="1.0" />
<line x1="38.3" y1="272.32" x2="41.1" y2="272.32" stroke="#222" stroke-width="1.0" />
<line x1="299.8" y1="272.32" x2="297" y2="272.32" stroke="#222" stroke-width="1.0" />
<line x1="38.3" y1="268.24" x2="41.1" y2="268.24" stroke="#222" stroke-width="1.0" />
<line x1="299.8" y1="268.24" x2="297" y2="268.24" stroke="#222" stroke-width="1.0" />
<line x1="38.3" y1="264.16" x2="41.1" y2="264.16" stroke="#222" stroke-width="1.0" />
<line x1="299.8" y1="264.16" x2="297" y2="264.16" stroke="#222" stroke-width="1.0" />
<line x1="38.3" y1="260.08" x2="41.1" y2="260.08" stroke="#222" stroke-width="1.0" />
<line x1="299.8" y1="260.08" x2="297" y2="260.08" stroke="#222" stroke-width="1.0" />
<line x1="38.3" y1="256" x2="43.8" y2="256" stroke="#222" stroke-width="1.0" />
<line x1="299.8" y1="256" x2="294.3" y2="256" stroke="#222" stroke-width="1.0" />
<circle cx="154.9" cy="374.6" r="4" fill="none" stroke="#111" stroke-width="1.1"/>
<circle cx="163.4" cy="374.6" r="4" fill="none" stroke="#111" stroke-width="1.1"/>
<circle cx="172" cy="371.6" r="4" fill="none" stroke="#111" stroke-width="1.1"/>
<circle cx="171.3" cy="376.5" r="4" fill="none" stroke="#111" stroke-width="1.1"/>
<circle cx="182" cy="366.7" r="4" fill="none" stroke="#111" stroke-width="1.1"/>
<circle cx="187.2" cy="375.2" r="4" fill="none" stroke="#111" stroke-width="1.1"/>
<circle cx="189" cy="377.7" r="4" fill="none" stroke="#111" stroke-width="1.1"/>
<circle cx="193.3" cy="385" r="4" fill="none" stroke="#111" stroke-width="1.1"/>
<circle cx="165.2" cy="392" r="4" fill="none" stroke="#111" stroke-width="1.1"/>
<circle cx="164.6" cy="407" r="4" fill="none" stroke="#111" stroke-width="1.1"/>
<circle cx="184.4" cy="406.1" r="4" fill="none" stroke="#111" stroke-width="1.1"/>
<circle cx="184.8" cy="411.8" r="4" fill="none" stroke="#111" stroke-width="1.1"/>
<circle cx="180.6" cy="416.2" r="4" fill="none" stroke="#111" stroke-width="1.1"/>
<circle cx="185.2" cy="417.6" r="4" fill="none" stroke="#111" stroke-width="1.1"/>
<circle cx="163.8" cy="425.8" r="4" fill="none" stroke="#111" stroke-width="1.1"/>
<circle cx="170.6" cy="425.8" r="4" fill="none" stroke="#111" stroke-width="1.1"/>
<circle cx="165.4" cy="432.2" r="4" fill="none" stroke="#111" stroke-width="1.1"/>
<circle cx="182.3" cy="428.5" r="4" fill="none" stroke="#111" stroke-width="1.1"/>
<circle cx="182.8" cy="431.1" r="4" fill="none" stroke="#111" stroke-width="1.1"/>
<circle cx="175.9" cy="438.5" r="4" fill="none" stroke="#111" stroke-width="1.1"/>
<circle cx="144.8" cy="440.4" r="4" fill="none" stroke="#111" stroke-width="1.1"/>
<circle cx="165.9" cy="448" r="4" fill="none" stroke="#111" stroke-width="1.1"/>
<circle cx="182.8" cy="452.3" r="4" fill="none" stroke="#111" stroke-width="1.1"/>
<circle cx="184.9" cy="455.4" r="4" fill="none" stroke="#111" stroke-width="1.1"/>
<polygon points="160.6,353 165.3,357.7 160.6,362.4 155.9,357.7" fill="#000" stroke="#000" stroke-width="0.6"/>
<polygon points="166.3,348.8 171,353.5 166.3,358.2 161.6,353.5" fill="#000" stroke="#000" stroke-width="0.6"/>
<polygon points="168.9,355.1 173.6,359.8 168.9,364.5 164.2,359.8" fill="#000" stroke="#000" stroke-width="0.6"/>
<polygon points="182.3,370.5 187,375.2 182.3,379.9 177.6,375.2" fill="#000" stroke="#000" stroke-width="0.6"/>
<polygon points="175,376.6 179.7,381.3 175,386 170.3,381.3" fill="#000" stroke="#000" stroke-width="0.6"/>
<polygon points="150.6,420.1 155.3,424.8 150.6,429.5 145.9,424.8" fill="#000" stroke="#000" stroke-width="0.6"/>
<polygon points="159,415.3 163.7,420 159,424.7 154.3,420" fill="#000" stroke="#000" stroke-width="0.6"/>
<polygon points="165.4,423.3 170.1,428 165.4,432.7 160.7,428" fill="#000" stroke="#000" stroke-width="0.6"/>
<polygon points="170.1,424.3 174.8,429 170.1,433.7 165.4,429" fill="#000" stroke="#000" stroke-width="0.6"/>
<polygon points="173.8,425.4 178.5,430.1 173.8,434.8 169.1,430.1" fill="#000" stroke="#000" stroke-width="0.6"/>
<polygon points="178,427 182.7,431.7 178,436.4 173.3,431.7" fill="#000" stroke="#000" stroke-width="0.6"/>
<polygon points="181.7,428.5 186.4,433.2 181.7,437.9 177,433.2" fill="#000" stroke="#000" stroke-width="0.6"/>
<polygon points="156.3,251.1 161,255.8 156.3,260.5 151.6,255.8" fill="#000" stroke="#000" stroke-width="0.6"/>
<rect x="103.3" y="427.8" width="8.8" height="8.8" fill="none" stroke="#111" stroke-width="1.1"/>
<rect x="117.6" y="453.2" width="8.8" height="8.8" fill="none" stroke="#111" stroke-width="1.1"/>
<polygon points="229,449 233.5,457.32 224.5,457.32" fill="#999" stroke="#999" stroke-width="0.5"/>
<rect x="38.3" y="256" width="261.5" height="204" fill="none" stroke="#222" stroke-width="1.5"/>
<rect x="38.3" y="256" width="20.9" height="14.4" fill="#fff" stroke="#333" stroke-width="1.1"/>
<text x="48.75" y="266.95" font-size="12.5" text-anchor="middle" fill="#111" stroke="#111" stroke-width="0.2" >d</text>
<text x="31.8" y="260.8" font-size="9.8" text-anchor="end" fill="#111" stroke="#111" stroke-width="0.2" >10.0</text>
<text x="31.8" y="301.6" font-size="9.8" text-anchor="end" fill="#111" stroke="#111" stroke-width="0.2" >8.0</text>
<text x="31.8" y="342.4" font-size="9.8" text-anchor="end" fill="#111" stroke="#111" stroke-width="0.2" >6.0</text>
<text x="31.8" y="383.2" font-size="9.8" text-anchor="end" fill="#111" stroke="#111" stroke-width="0.2" >4.0</text>
<text x="31.8" y="424" font-size="9.8" text-anchor="end" fill="#111" stroke="#111" stroke-width="0.2" >2.0</text>
<text x="31.8" y="464.8" font-size="9.8" text-anchor="end" fill="#111" stroke="#111" stroke-width="0.2" >0.0</text>
<text x="34.3" y="474.3" font-size="9.8" text-anchor="middle" fill="#111" stroke="#111" stroke-width="0.2" >2000</text>
<text x="86.6" y="474.3" font-size="9.8" text-anchor="middle" fill="#111" stroke="#111" stroke-width="0.2" >2200</text>
<text x="138.9" y="474.3" font-size="9.8" text-anchor="middle" fill="#111" stroke="#111" stroke-width="0.2" >2400</text>
<text x="191.2" y="474.3" font-size="9.8" text-anchor="middle" fill="#111" stroke="#111" stroke-width="0.2" >2600</text>
<text x="243.5" y="474.3" font-size="9.8" text-anchor="middle" fill="#111" stroke="#111" stroke-width="0.2" >2800</text>
<text x="295.8" y="474.3" font-size="9.8" text-anchor="middle" fill="#111" stroke="#111" stroke-width="0.2" >3000</text>
<text x="135.1" y="486.7" font-size="9.6" text-anchor="start" fill="#111" stroke="#111" stroke-width="0.2" textLength="40.9"><tspan font-size="5.3" dy="-3.65">207</tspan><tspan dy="3.65">Pb/</tspan><tspan font-size="5.3" dy="-3.65">206</tspan><tspan dy="3.65">Pb</tspan></text>
<g transform="translate(12.5,365.2) rotate(-90)">
<text x="0" y="0" font-size="9.8" text-anchor="start" fill="#111" stroke="#111" stroke-width="0.2" textLength="19.5">Th/U</text>
</g>
<rect x="136.4" y="265.5" width="154" height="82.5" fill="#fff" stroke="#222" stroke-width="1.1"/>
<polygon points="147.3,271.7 151.9,280.21 142.7,280.21" fill="#888" stroke="#888" stroke-width="0.5"/>
<line x1="155" y1="276.3" x2="173.5" y2="276.3" stroke="#333" stroke-width="1.0" />
<text x="176.1" y="276.7" font-size="8.74" font-weight="400" font-family="'Noto Serif CJK SC','Liberation Serif',serif" fill="#222" textLength="59" lengthAdjust="spacing">捕获岩浆锆石</text>
<text x="176.1" y="284.4" font-size="9.4" text-anchor="start" fill="#111" stroke="#111" stroke-width="0.28" textLength="107.2">Captured magmatic zircon</text>
<circle cx="147" cy="296.8" r="4.3" fill="none" stroke="#111" stroke-width="1.1"/>
<line x1="155" y1="296.8" x2="173.5" y2="296.8" stroke="#333" stroke-width="1.0" />
<text x="176.1" y="297.2" font-size="8.74" font-weight="400" font-family="'Noto Serif CJK SC','Liberation Serif',serif" fill="#222" textLength="59" lengthAdjust="spacing">岩浆成因锆石</text>
<text x="176.1" y="304.9" font-size="9.4" text-anchor="start" fill="#111" stroke="#111" stroke-width="0.28" textLength="67.4">Magmatic zircon</text>
<polygon points="147,312.5 151.7,317.2 147,321.9 142.3,317.2" fill="#000" stroke="#000" stroke-width="0.6"/>
<line x1="155" y1="317.2" x2="173.5" y2="317.2" stroke="#333" stroke-width="1.0" />
<text x="176.1" y="317.6" font-size="8.74" font-weight="400" font-family="'Noto Serif CJK SC','Liberation Serif',serif" fill="#222" textLength="59" lengthAdjust="spacing">变质成因锆石</text>
<text x="176.1" y="325.3" font-size="9.4" text-anchor="start" fill="#111" stroke="#111" stroke-width="0.28" textLength="81.9">Metamorphic zircon</text>
<rect x="142.6" y="333.2" width="8.8" height="8.8" fill="none" stroke="#111" stroke-width="1.1"/>
<line x1="155" y1="337.6" x2="173.5" y2="337.6" stroke="#333" stroke-width="1.0" />
<text x="176.1" y="338" font-size="8.74" font-weight="400" font-family="'Noto Serif CJK SC','Liberation Serif',serif" fill="#222" textLength="59" lengthAdjust="spacing">后期增生锆石</text>
<text x="176.1" y="345.7" font-size="9.4" text-anchor="start" fill="#111" stroke="#111" stroke-width="0.28" textLength="85">Late accreting zircon</text>
<clipPath id="ce"><rect x="348.4" y="256.9" width="262.20000000000005" height="204.40000000000003"/></clipPath>
<line x1="365.6" y1="461.3" x2="365.6" y2="456.3" stroke="#222" stroke-width="1.0" />
<line x1="365.6" y1="256.9" x2="365.6" y2="262.4" stroke="#222" stroke-width="1.0" />
<line x1="383.13" y1="461.3" x2="383.13" y2="456.3" stroke="#222" stroke-width="1.0" />
<line x1="383.13" y1="256.9" x2="383.13" y2="262.4" stroke="#222" stroke-width="1.0" />
<line x1="400.66" y1="461.3" x2="400.66" y2="456.3" stroke="#222" stroke-width="1.0" />
<line x1="400.66" y1="256.9" x2="400.66" y2="262.4" stroke="#222" stroke-width="1.0" />
<line x1="418.19" y1="461.3" x2="418.19" y2="456.3" stroke="#222" stroke-width="1.0" />
<line x1="418.19" y1="256.9" x2="418.19" y2="262.4" stroke="#222" stroke-width="1.0" />
<line x1="435.72" y1="461.3" x2="435.72" y2="456.3" stroke="#222" stroke-width="1.0" />
<line x1="435.72" y1="256.9" x2="435.72" y2="262.4" stroke="#222" stroke-width="1.0" />
<line x1="453.25" y1="461.3" x2="453.25" y2="456.3" stroke="#222" stroke-width="1.0" />
<line x1="453.25" y1="256.9" x2="453.25" y2="262.4" stroke="#222" stroke-width="1.0" />
<line x1="470.78" y1="461.3" x2="470.78" y2="456.3" stroke="#222" stroke-width="1.0" />
<line x1="470.78" y1="256.9" x2="470.78" y2="262.4" stroke="#222" stroke-width="1.0" />
<line x1="488.31" y1="461.3" x2="488.31" y2="456.3" stroke="#222" stroke-width="1.0" />
<line x1="488.31" y1="256.9" x2="488.31" y2="262.4" stroke="#222" stroke-width="1.0" />
<line x1="505.84" y1="461.3" x2="505.84" y2="456.3" stroke="#222" stroke-width="1.0" />
<line x1="505.84" y1="256.9" x2="505.84" y2="262.4" stroke="#222" stroke-width="1.0" />
<line x1="523.37" y1="461.3" x2="523.37" y2="456.3" stroke="#222" stroke-width="1.0" />
<line x1="523.37" y1="256.9" x2="523.37" y2="262.4" stroke="#222" stroke-width="1.0" />
<line x1="540.9" y1="461.3" x2="540.9" y2="456.3" stroke="#222" stroke-width="1.0" />
<line x1="540.9" y1="256.9" x2="540.9" y2="262.4" stroke="#222" stroke-width="1.0" />
<line x1="558.43" y1="461.3" x2="558.43" y2="456.3" stroke="#222" stroke-width="1.0" />
<line x1="558.43" y1="256.9" x2="558.43" y2="262.4" stroke="#222" stroke-width="1.0" />
<line x1="575.96" y1="461.3" x2="575.96" y2="456.3" stroke="#222" stroke-width="1.0" />
<line x1="575.96" y1="256.9" x2="575.96" y2="262.4" stroke="#222" stroke-width="1.0" />
<line x1="593.49" y1="461.3" x2="593.49" y2="456.3" stroke="#222" stroke-width="1.0" />
<line x1="593.49" y1="256.9" x2="593.49" y2="262.4" stroke="#222" stroke-width="1.0" />
<line x1="348.4" y1="461.3" x2="353.9" y2="461.3" stroke="#222" stroke-width="1.0" />
<line x1="610.6" y1="461.3" x2="605.1" y2="461.3" stroke="#222" stroke-width="1.0" />
<line x1="348.4" y1="448.99" x2="351.2" y2="448.99" stroke="#222" stroke-width="1.0" />
<line x1="610.6" y1="448.99" x2="607.8" y2="448.99" stroke="#222" stroke-width="1.0" />
<line x1="348.4" y1="441.8" x2="351.2" y2="441.8" stroke="#222" stroke-width="1.0" />
<line x1="610.6" y1="441.8" x2="607.8" y2="441.8" stroke="#222" stroke-width="1.0" />
<line x1="348.4" y1="436.69" x2="351.2" y2="436.69" stroke="#222" stroke-width="1.0" />
<line x1="610.6" y1="436.69" x2="607.8" y2="436.69" stroke="#222" stroke-width="1.0" />
<line x1="348.4" y1="432.73" x2="351.2" y2="432.73" stroke="#222" stroke-width="1.0" />
<line x1="610.6" y1="432.73" x2="607.8" y2="432.73" stroke="#222" stroke-width="1.0" />
<line x1="348.4" y1="429.49" x2="351.2" y2="429.49" stroke="#222" stroke-width="1.0" />
<line x1="610.6" y1="429.49" x2="607.8" y2="429.49" stroke="#222" stroke-width="1.0" />
<line x1="348.4" y1="426.75" x2="351.2" y2="426.75" stroke="#222" stroke-width="1.0" />
<line x1="610.6" y1="426.75" x2="607.8" y2="426.75" stroke="#222" stroke-width="1.0" />
<line x1="348.4" y1="424.38" x2="351.2" y2="424.38" stroke="#222" stroke-width="1.0" />
<line x1="610.6" y1="424.38" x2="607.8" y2="424.38" stroke="#222" stroke-width="1.0" />
<line x1="348.4" y1="422.29" x2="351.2" y2="422.29" stroke="#222" stroke-width="1.0" />
<line x1="610.6" y1="422.29" x2="607.8" y2="422.29" stroke="#222" stroke-width="1.0" />
<line x1="348.4" y1="420.42" x2="353.9" y2="420.42" stroke="#222" stroke-width="1.0" />
<line x1="610.6" y1="420.42" x2="605.1" y2="420.42" stroke="#222" stroke-width="1.0" />
<line x1="348.4" y1="408.11" x2="351.2" y2="408.11" stroke="#222" stroke-width="1.0" />
<line x1="610.6" y1="408.11" x2="607.8" y2="408.11" stroke="#222" stroke-width="1.0" />
<line x1="348.4" y1="400.92" x2="351.2" y2="400.92" stroke="#222" stroke-width="1.0" />
<line x1="610.6" y1="400.92" x2="607.8" y2="400.92" stroke="#222" stroke-width="1.0" />
<line x1="348.4" y1="395.81" x2="351.2" y2="395.81" stroke="#222" stroke-width="1.0" />
<line x1="610.6" y1="395.81" x2="607.8" y2="395.81" stroke="#222" stroke-width="1.0" />
<line x1="348.4" y1="391.85" x2="351.2" y2="391.85" stroke="#222" stroke-width="1.0" />
<line x1="610.6" y1="391.85" x2="607.8" y2="391.85" stroke="#222" stroke-width="1.0" />
<line x1="348.4" y1="388.61" x2="351.2" y2="388.61" stroke="#222" stroke-width="1.0" />
<line x1="610.6" y1="388.61" x2="607.8" y2="388.61" stroke="#222" stroke-width="1.0" />
<line x1="348.4" y1="385.87" x2="351.2" y2="385.87" stroke="#222" stroke-width="1.0" />
<line x1="610.6" y1="385.87" x2="607.8" y2="385.87" stroke="#222" stroke-width="1.0" />
<line x1="348.4" y1="383.5" x2="351.2" y2="383.5" stroke="#222" stroke-width="1.0" />
<line x1="610.6" y1="383.5" x2="607.8" y2="383.5" stroke="#222" stroke-width="1.0" />
<line x1="348.4" y1="381.41" x2="351.2" y2="381.41" stroke="#222" stroke-width="1.0" />
<line x1="610.6" y1="381.41" x2="607.8" y2="381.41" stroke="#222" stroke-width="1.0" />
<line x1="348.4" y1="379.54" x2="353.9" y2="379.54" stroke="#222" stroke-width="1.0" />
<line x1="610.6" y1="379.54" x2="605.1" y2="379.54" stroke="#222" stroke-width="1.0" />
<line x1="348.4" y1="367.23" x2="351.2" y2="367.23" stroke="#222" stroke-width="1.0" />
<line x1="610.6" y1="367.23" x2="607.8" y2="367.23" stroke="#222" stroke-width="1.0" />
<line x1="348.4" y1="360.04" x2="351.2" y2="360.04" stroke="#222" stroke-width="1.0" />
<line x1="610.6" y1="360.04" x2="607.8" y2="360.04" stroke="#222" stroke-width="1.0" />
<line x1="348.4" y1="354.93" x2="351.2" y2="354.93" stroke="#222" stroke-width="1.0" />
<line x1="610.6" y1="354.93" x2="607.8" y2="354.93" stroke="#222" stroke-width="1.0" />
<line x1="348.4" y1="350.97" x2="351.2" y2="350.97" stroke="#222" stroke-width="1.0" />
<line x1="610.6" y1="350.97" x2="607.8" y2="350.97" stroke="#222" stroke-width="1.0" />
<line x1="348.4" y1="347.73" x2="351.2" y2="347.73" stroke="#222" stroke-width="1.0" />
<line x1="610.6" y1="347.73" x2="607.8" y2="347.73" stroke="#222" stroke-width="1.0" />
<line x1="348.4" y1="344.99" x2="351.2" y2="344.99" stroke="#222" stroke-width="1.0" />
<line x1="610.6" y1="344.99" x2="607.8" y2="344.99" stroke="#222" stroke-width="1.0" />
<line x1="348.4" y1="342.62" x2="351.2" y2="342.62" stroke="#222" stroke-width="1.0" />
<line x1="610.6" y1="342.62" x2="607.8" y2="342.62" stroke="#222" stroke-width="1.0" />
<line x1="348.4" y1="340.53" x2="351.2" y2="340.53" stroke="#222" stroke-width="1.0" />
<line x1="610.6" y1="340.53" x2="607.8" y2="340.53" stroke="#222" stroke-width="1.0" />
<line x1="348.4" y1="338.66" x2="353.9" y2="338.66" stroke="#222" stroke-width="1.0" />
<line x1="610.6" y1="338.66" x2="605.1" y2="338.66" stroke="#222" stroke-width="1.0" />
<line x1="348.4" y1="326.35" x2="351.2" y2="326.35" stroke="#222" stroke-width="1.0" />
<line x1="610.6" y1="326.35" x2="607.8" y2="326.35" stroke="#222" stroke-width="1.0" />
<line x1="348.4" y1="319.16" x2="351.2" y2="319.16" stroke="#222" stroke-width="1.0" />
<line x1="610.6" y1="319.16" x2="607.8" y2="319.16" stroke="#222" stroke-width="1.0" />
<line x1="348.4" y1="314.05" x2="351.2" y2="314.05" stroke="#222" stroke-width="1.0" />
<line x1="610.6" y1="314.05" x2="607.8" y2="314.05" stroke="#222" stroke-width="1.0" />
<line x1="348.4" y1="310.09" x2="351.2" y2="310.09" stroke="#222" stroke-width="1.0" />
<line x1="610.6" y1="310.09" x2="607.8" y2="310.09" stroke="#222" stroke-width="1.0" />
<line x1="348.4" y1="306.85" x2="351.2" y2="306.85" stroke="#222" stroke-width="1.0" />
<line x1="610.6" y1="306.85" x2="607.8" y2="306.85" stroke="#222" stroke-width="1.0" />
<line x1="348.4" y1="304.11" x2="351.2" y2="304.11" stroke="#222" stroke-width="1.0" />
<line x1="610.6" y1="304.11" x2="607.8" y2="304.11" stroke="#222" stroke-width="1.0" />
<line x1="348.4" y1="301.74" x2="351.2" y2="301.74" stroke="#222" stroke-width="1.0" />
<line x1="610.6" y1="301.74" x2="607.8" y2="301.74" stroke="#222" stroke-width="1.0" />
<line x1="348.4" y1="299.65" x2="351.2" y2="299.65" stroke="#222" stroke-width="1.0" />
<line x1="610.6" y1="299.65" x2="607.8" y2="299.65" stroke="#222" stroke-width="1.0" />
<line x1="348.4" y1="297.78" x2="353.9" y2="297.78" stroke="#222" stroke-width="1.0" />
<line x1="610.6" y1="297.78" x2="605.1" y2="297.78" stroke="#222" stroke-width="1.0" />
<line x1="348.4" y1="285.47" x2="351.2" y2="285.47" stroke="#222" stroke-width="1.0" />
<line x1="610.6" y1="285.47" x2="607.8" y2="285.47" stroke="#222" stroke-width="1.0" />
<line x1="348.4" y1="278.28" x2="351.2" y2="278.28" stroke="#222" stroke-width="1.0" />
<line x1="610.6" y1="278.28" x2="607.8" y2="278.28" stroke="#222" stroke-width="1.0" />
<line x1="348.4" y1="273.17" x2="351.2" y2="273.17" stroke="#222" stroke-width="1.0" />
<line x1="610.6" y1="273.17" x2="607.8" y2="273.17" stroke="#222" stroke-width="1.0" />
<line x1="348.4" y1="269.21" x2="351.2" y2="269.21" stroke="#222" stroke-width="1.0" />
<line x1="610.6" y1="269.21" x2="607.8" y2="269.21" stroke="#222" stroke-width="1.0" />
<line x1="348.4" y1="265.97" x2="351.2" y2="265.97" stroke="#222" stroke-width="1.0" />
<line x1="610.6" y1="265.97" x2="607.8" y2="265.97" stroke="#222" stroke-width="1.0" />
<line x1="348.4" y1="263.23" x2="351.2" y2="263.23" stroke="#222" stroke-width="1.0" />
<line x1="610.6" y1="263.23" x2="607.8" y2="263.23" stroke="#222" stroke-width="1.0" />
<line x1="348.4" y1="260.86" x2="351.2" y2="260.86" stroke="#222" stroke-width="1.0" />
<line x1="610.6" y1="260.86" x2="607.8" y2="260.86" stroke="#222" stroke-width="1.0" />
<line x1="348.4" y1="258.77" x2="351.2" y2="258.77" stroke="#222" stroke-width="1.0" />
<line x1="610.6" y1="258.77" x2="607.8" y2="258.77" stroke="#222" stroke-width="1.0" />
<line x1="348.4" y1="256.9" x2="353.9" y2="256.9" stroke="#222" stroke-width="1.0" />
<g clip-path="url(#ce)">
<polyline points="365.6,390.48 383.13,360.04 400.66,369.3 418.19,368.52 435.72,352.84 453.25,367.23 470.78,335.42 488.31,326.35 505.84,316.42 523.37,308.39 540.9,301.74 558.43,296.09 575.96,290.58 593.49,287.34" stroke="#aaa" stroke-width="0.8" fill="none" />
<polygon points="365.6,386.28 369.8,394.05 361.4,394.05" fill="#aaa" stroke="#aaa" stroke-width="0.5"/>
<polygon points="383.13,355.84 387.33,363.61 378.93,363.61" fill="#aaa" stroke="#aaa" stroke-width="0.5"/>
<polygon points="400.66,365.1 404.86,372.87 396.46,372.87" fill="#aaa" stroke="#aaa" stroke-width="0.5"/>
<polygon points="418.19,364.32 422.39,372.09 413.99,372.09" fill="#aaa" stroke="#aaa" stroke-width="0.5"/>
<polygon points="435.72,348.64 439.92,356.41 431.52,356.41" fill="#aaa" stroke="#aaa" stroke-width="0.5"/>
<polygon points="453.25,363.03 457.45,370.8 449.05,370.8" fill="#aaa" stroke="#aaa" stroke-width="0.5"/>
<polygon points="470.78,331.22 474.98,338.99 466.58,338.99" fill="#aaa" stroke="#aaa" stroke-width="0.5"/>
<polygon points="488.31,322.15 492.51,329.92 484.11,329.92" fill="#aaa" stroke="#aaa" stroke-width="0.5"/>
<polygon points="505.84,312.22 510.04,319.99 501.64,319.99" fill="#aaa" stroke="#aaa" stroke-width="0.5"/>
<polygon points="523.37,304.19 527.57,311.96 519.17,311.96" fill="#aaa" stroke="#aaa" stroke-width="0.5"/>
<polygon points="540.9,297.54 545.1,305.31 536.7,305.31" fill="#aaa" stroke="#aaa" stroke-width="0.5"/>
<polygon points="558.43,291.89 562.63,299.66 554.23,299.66" fill="#aaa" stroke="#aaa" stroke-width="0.5"/>
<polygon points="575.96,286.38 580.16,294.15 571.76,294.15" fill="#aaa" stroke="#aaa" stroke-width="0.5"/>
<polygon points="593.49,283.14 597.69,290.91 589.29,290.91" fill="#aaa" stroke="#aaa" stroke-width="0.5"/>
<polyline points="383.13,365.75 400.66,414.47 418.19,390.48 435.72,370.9 453.25,415.26 470.78,349.69 488.31,340.63 505.84,329.67 523.37,319.63 540.9,308.64 558.43,308.99 575.96,299.26 593.49,295.88" stroke="#000" stroke-width="0.9" fill="none" />
<polyline points="383.13,370.39 400.66,413.85 418.19,384.61 435.72,360.79 453.25,387.66 470.78,350.57 488.31,340.74 505.84,328.07 523.37,321.02 540.9,312.1 558.43,305.77 575.96,298.23 593.49,294.72" stroke="#000" stroke-width="0.9" fill="none" />
<polyline points="383.13,358.48 400.66,408.03 418.19,396.07 435.72,354.66 453.25,398.9 470.78,352.56 488.31,337.79 505.84,328.93 523.37,318.64 540.9,311.42 558.43,305.22 575.96,295.87 593.49,295.13" stroke="#000" stroke-width="0.9" fill="none" />
<polyline points="383.13,367.21 400.66,416.44 418.19,396.29 435.72,364.6 453.25,393.58 470.78,350.82 488.31,340.05 505.84,327.84 523.37,320.57 540.9,308.29 558.43,307.7 575.96,298.35 593.49,293.36" stroke="#000" stroke-width="0.9" fill="none" />
<polyline points="383.13,354.46 400.66,415.18 418.19,388.34 435.72,367.68 453.25,384.23 470.78,349.27 488.31,338.08 505.84,325.73 523.37,314.51 540.9,308.4 558.43,303 575.96,296.97 593.49,291.42" stroke="#000" stroke-width="0.9" fill="none" />
<polyline points="383.13,370.38 400.66,420.78 418.19,387.01 435.72,353.08 453.25,414.09 470.78,348.54 488.31,338.71 505.84,326.66 523.37,318.88 540.9,307.89 558.43,306.9 575.96,302.25 593.49,292.72" stroke="#000" stroke-width="0.9" fill="none" />
<polyline points="383.13,360.9 400.66,426.11 418.19,400.85 435.72,363.34 453.25,392.62 470.78,346.33 488.31,336.95 505.84,324.95 523.37,315.98 540.9,310.09 558.43,300.97 575.96,297.58 593.49,292.77" stroke="#000" stroke-width="0.9" fill="none" />
<polyline points="383.13,362.58 400.66,413.66 418.19,391.2 435.72,360 453.25,392.25 470.78,343.89 488.31,336.3 505.84,325.78 523.37,314.73 540.9,308.06 558.43,301.35 575.96,294.46 593.49,291.18" stroke="#000" stroke-width="0.9" fill="none" />
<polyline points="383.13,364.8 400.66,414.96 418.19,405.15 435.72,358.75 453.25,391.79 470.78,345.3 488.31,334.16 505.84,323.36 523.37,317.35 540.9,307.75 558.43,303.54 575.96,294.4 593.49,290.98" stroke="#000" stroke-width="0.9" fill="none" />
<polyline points="383.13,372.29 400.66,413.01 418.19,382.3 435.72,366.8 453.25,398.46 470.78,345.43 488.31,335.71 505.84,324.11 523.37,314.2 540.9,308.72 558.43,300.66 575.96,295.85 593.49,289.45" stroke="#000" stroke-width="0.9" fill="none" />
<polyline points="383.13,361.54 400.66,411.81 418.19,398.12 435.72,367.43 453.25,385.29 470.78,343.83 488.31,334.18 505.84,321.83 523.37,316.01 540.9,306.1 558.43,300.29 575.96,294.22 593.49,291.23" stroke="#000" stroke-width="0.9" fill="none" />
<polyline points="383.13,364.31 400.66,409.36 418.19,401.53 435.72,364.91 453.25,391.11 470.78,340.43 488.31,333.23 505.84,320.8 523.37,312.07 540.9,306.04 558.43,299.79 575.96,292.72 593.49,291.13" stroke="#000" stroke-width="0.9" fill="none" />
<polyline points="383.13,356.52 400.66,413.7 418.19,386.1 435.72,364.72 453.25,410.84 470.78,340.85 488.31,333.2 505.84,319.06 523.37,313.07 540.9,304.38 558.43,300.98 575.96,293.1 593.49,291.44" stroke="#000" stroke-width="0.9" fill="none" />
<polyline points="383.13,370.27 400.66,426.66 418.19,382.78 435.72,352.92 453.25,378.34 470.78,343 488.31,330.07 505.84,319.15 523.37,312.17 540.9,304.42 558.43,301.12 575.96,293.56 593.49,289.57" stroke="#000" stroke-width="0.9" fill="none" />
<polyline points="383.13,368.76 400.66,425.37 418.19,391.37 435.72,366.01 453.25,385.04 470.78,339.58 488.31,329.11 505.84,319.54 523.37,313.07 540.9,307.29 558.43,296.99 575.96,294.65 593.49,288.71" stroke="#000" stroke-width="0.9" fill="none" />
<polyline points="383.13,357.83 400.66,423.26 418.19,398.37 435.72,357.71 453.25,395.86 470.78,342.26 488.31,329.35 505.84,320.4 523.37,312.16 540.9,304.04 558.43,296 575.96,294.61 593.49,287.75" stroke="#000" stroke-width="0.9" fill="none" />
<polyline points="383.13,362.27 400.66,410.15 418.19,401.48 435.72,354.87 453.25,380.81 470.78,338.62 488.31,329.61 505.84,321.28 523.37,309.33 540.9,303.54 558.43,297.82 575.96,292.48 593.49,287.92" stroke="#000" stroke-width="0.9" fill="none" />
<polyline points="383.13,362.43 400.66,418.15 418.19,394.18 435.72,355.2 453.25,415.69 470.78,336.91 488.31,328.6 505.84,317.38 523.37,309.41 540.9,299.91 558.43,297.19 575.96,289.83 593.49,286.1" stroke="#000" stroke-width="0.9" fill="none" />
<polyline points="383.13,366.15 400.66,413.6 418.19,391.42 435.72,364.38 453.25,408.52 470.78,336.71 488.31,329.27 505.84,317.29 523.37,311.69 540.9,303.09 558.43,297.3 575.96,290.84 593.49,286.43" stroke="#000" stroke-width="0.9" fill="none" />
<polyline points="383.13,360.8 400.66,410.84 418.19,396.42 435.72,354.66 453.25,392.14 470.78,336.97 488.31,326.87 505.84,318.3 523.37,308.47 540.9,302.72 558.43,294.74 575.96,290.95 593.49,285.76" stroke="#000" stroke-width="0.9" fill="none" />
<polyline points="383.13,372.05 400.66,418.11 418.19,395.32 435.72,352.93 453.25,380.26 470.78,337.53 488.31,330.29 505.84,315.51 523.37,309.18 540.9,302.9 558.43,297.13 575.96,290.67 593.49,285.93" stroke="#000" stroke-width="0.9" fill="none" />
<polyline points="383.13,354.83 400.66,410.64 418.19,389.46 435.72,356.15 453.25,394.38 470.78,334.91 488.31,326.66 505.84,315.97 523.37,308.74 540.9,301.25 558.43,296.24 575.96,289.78 593.49,285.85" stroke="#000" stroke-width="0.9" fill="none" />
<polyline points="383.13,373.07 400.66,409.64 418.19,402.69 435.72,353.71 453.25,390.23 470.78,334.45 488.31,324.03 505.84,317.38 523.37,308.97 540.9,300.62 558.43,292.18 575.96,288.34 593.49,286.88" stroke="#000" stroke-width="0.9" fill="none" />
<polyline points="383.13,371.31 400.66,411.53 418.19,383 435.72,370.99 453.25,403.47 470.78,335.74 488.31,326.23 505.84,314.51 523.37,306.05 540.9,299.35 558.43,292.31 575.96,288.6 593.49,286.01" stroke="#000" stroke-width="0.9" fill="none" />
<polyline points="383.13,366.17 400.66,418.25 418.19,403.62 435.72,361.3 453.25,378.87 470.78,332.41 488.31,326.79 505.84,313.24 523.37,305.59 540.9,297.53 558.43,293.72 575.96,290.27 593.49,286.02" stroke="#000" stroke-width="0.9" fill="none" />
<polyline points="383.13,359.99 400.66,408.51 418.19,402.02 435.72,370.23 453.25,387.4 470.78,330.81 488.31,324.69 505.84,315.13 523.37,304.98 540.9,297.81 558.43,292.01 575.96,287.15 593.49,282.42" stroke="#000" stroke-width="0.9" fill="none" />
<polyline points="383.13,358.97 400.66,407.37 418.19,398.47 435.72,356.77 453.25,400.1 470.78,330.64 488.31,322.39 505.84,314.07 523.37,305.28 540.9,296.85 558.43,291.06 575.96,287.06 593.49,284.18" stroke="#000" stroke-width="0.9" fill="none" />
<polyline points="383.13,365.95 400.66,420.21 418.19,386.88 435.72,369.17 453.25,378.18 470.78,331.74 488.31,321.95 505.84,313.96 523.37,303.7 540.9,296 558.43,292.88 575.96,288.35 593.49,282.67" stroke="#000" stroke-width="0.9" fill="none" />
<polyline points="383.13,358.07 400.66,407.23 418.19,394.31 435.72,367.27 453.25,406.86 470.78,330.12 488.31,321.67 505.84,312.7 523.37,301.13 540.9,296.58 558.43,290.74 575.96,285.01 593.49,282.44" stroke="#000" stroke-width="0.9" fill="none" />
<polyline points="383.13,358.68 400.66,409.3 418.19,383.84 435.72,366.71 453.25,382.96 470.78,328.86 488.31,319.41 505.84,310.33 523.37,303.38 540.9,293.42 558.43,288.94 575.96,285.61 593.49,280.86" stroke="#000" stroke-width="0.9" fill="none" />
<polyline points="383.13,373.42 400.66,419.95 418.19,395.07 435.72,361.62 453.25,407.8 470.78,330.11 488.31,324 505.84,312.52 523.37,304.7 540.9,295.04 558.43,290.12 575.96,285.18 593.49,282.74" stroke="#000" stroke-width="0.9" fill="none" />
<polyline points="383.13,354.83 400.66,408.28 418.19,403.29 435.72,351.57 453.25,401.57 470.78,327.41 488.31,322.05 505.84,310.25 523.37,300.6 540.9,296.13 558.43,291.57 575.96,285.1 593.49,279.58" stroke="#000" stroke-width="0.9" fill="none" />
<polyline points="383.13,362.24 400.66,424.45 418.19,393.67 435.72,364.57 453.25,388.54 470.78,325.81 488.31,318.6 505.84,309.26 523.37,299.88 540.9,291.49 558.43,288.58 575.96,283.99 593.49,279.01" stroke="#000" stroke-width="0.9" fill="none" />
<polyline points="383.13,370.97 400.66,407.81 418.19,402.21 435.72,365.02 453.25,388.45 470.78,327.86 488.31,319.9 505.84,309.63 523.37,302.61 540.9,294.31 558.43,288.23 575.96,282.43 593.49,280.22" stroke="#000" stroke-width="0.9" fill="none" />
<polyline points="383.13,357.95 400.66,419.45 418.19,399.19 435.72,363.88 453.25,382.68 470.78,326.54 488.31,316.18 505.84,307.15 523.37,300.3 540.9,290.73 558.43,288.47 575.96,282.33 593.49,281.45" stroke="#000" stroke-width="0.9" fill="none" />
<polyline points="383.13,357.27 400.66,419.58 418.19,385.12 435.72,369.87 453.25,405.51 470.78,323.39 488.31,316.22 505.84,306.26 523.37,301.44 540.9,291.66 558.43,286.25 575.96,284.24 593.49,278.58" stroke="#000" stroke-width="0.9" fill="none" />
<polyline points="383.13,356.34 400.66,411.53 418.19,391.3 435.72,369.11 453.25,400.66 470.78,347.73 488.31,339.57 505.84,330.32 523.37,323.87 540.9,319.04 558.43,310.19 575.96,307.79 593.49,301.99" stroke="#000" stroke-width="0.9" fill="none" />
<polyline points="383.13,369.48 400.66,416.03 418.19,391.87 435.72,367.88 453.25,406.28 470.78,349.27 488.31,341.55 505.84,332.69 523.37,326.35 540.9,320.38 558.43,313.18 575.96,309.39 593.49,305.29" stroke="#000" stroke-width="0.9" fill="none" />
<polyline points="383.13,357.06 400.66,426.14 418.19,386.18 435.72,352.67 453.25,379.77 470.78,351.69 488.31,344.99 505.84,336.97 523.37,330.32 540.9,325.07 558.43,319.16 575.96,315.43 593.49,310.81" stroke="#000" stroke-width="0.9" fill="none" />
<polyline points="383.13,365.47 400.66,415.52 418.19,391.51 435.72,358.36 453.25,378.72 470.78,352.45 488.31,346.04 505.84,337.79 523.37,331.46 540.9,326.8 558.43,320.7 575.96,316.67 593.49,312.36" stroke="#000" stroke-width="0.9" fill="none" />
<polyline points="383.13,359.06 400.66,420.67 418.19,384.8 435.72,361.66 453.25,392.96 470.78,352.84 488.31,346.58 505.84,338.66 523.37,330.88 540.9,325.92 558.43,319.76 575.96,315.92 593.49,311.57" stroke="#000" stroke-width="0.9" fill="none" />
<polyline points="383.13,358.22 400.66,426.7 418.19,386.97 435.72,357.73 453.25,397.11 470.78,354.06 488.31,349.27 505.84,343.77 523.37,340.93 540.9,331.94 558.43,328.03 575.96,322.39 593.49,320.76" stroke="#000" stroke-width="0.9" fill="none" />
<polyline points="365.6,357.81 383.13,335.42 400.66,340.53 418.19,336.97 435.72,327.74 453.25,323.12 470.78,321.7 488.31,317.46 505.84,310.09 523.37,304.11 540.9,299.65 558.43,295.3 575.96,291.81 593.49,288.89" stroke="#000" stroke-width="0.9" fill="none" />
<polyline points="365.6,368.14 383.13,357.3 400.66,360.64 418.19,360.64 435.72,346.04 453.25,365.54 470.78,335.42 488.31,326.35 505.84,316.42 523.37,310.09 540.9,304.11 558.43,299.65 575.96,296.09 593.49,293.12" stroke="#000" stroke-width="0.9" fill="none" />
<polyline points="365.6,379.02 383.13,363.27 400.66,379.02 418.19,370.44 435.72,354.93 453.25,372.11 470.78,338.66 488.31,329.24 505.84,319.16 523.37,312.76 540.9,306.85 558.43,301.74 575.96,297.78 593.49,294.54" stroke="#000" stroke-width="0.9" fill="none" />
<polyline points="365.6,409.98 383.13,367.23 400.66,392.2 418.19,381.41 435.72,360.04 453.25,379.54 470.78,340.53 488.31,331.46 505.84,321.7 523.37,314.96 540.9,309.39 558.43,304.11 575.96,299.65 593.49,296.09" stroke="#000" stroke-width="0.9" fill="none" />
<polyline points="365.6,420.78 383.13,372.34 400.66,424.38 418.19,400.92 435.72,367.23 453.25,391.85 470.78,347.73 488.31,346.31 505.84,347.73 523.37,350.27 540.9,351.69 558.43,350.27 575.96,348.95 593.49,346.86" stroke="#000" stroke-width="0.9" fill="none" />
<polyline points="365.6,434.6 383.13,376.3 400.66,420.42 418.19,395.81 435.72,363.27 453.25,400.92 470.78,344.99 488.31,342.62 505.84,338.66 523.37,342.18 540.9,342.18 558.43,341.13 575.96,337.46 593.49,337.63" stroke="#000" stroke-width="0.9" fill="none" />
<polyline points="365.6,453.75 383.13,378.01 400.66,417.18 418.19,398.18 435.72,369.1 453.25,408.11 470.78,349.27 488.31,349.27 505.84,350.97 523.37,353.24 540.9,354.06 558.43,352.45 575.96,350.97 593.49,349.93" stroke="#000" stroke-width="0.9" fill="none" />
<polyline points="365.6,302.19 383.13,304.63 400.66,307.45 418.19,311.18 435.72,316.42 453.25,322.39 470.78,321.03 488.31,322.39 505.84,316.42 523.37,311.96 540.9,308.39 558.43,305.43 575.96,302.89 593.49,300.67" stroke="#000" stroke-width="0.9" fill="none" />
<circle cx="383.13" cy="365.75" r="4.0" fill="none" stroke="#111" stroke-width="1.0"/>
<circle cx="400.66" cy="414.47" r="4.0" fill="none" stroke="#111" stroke-width="1.0"/>
<circle cx="418.19" cy="390.48" r="4.0" fill="none" stroke="#111" stroke-width="1.0"/>
<circle cx="435.72" cy="370.9" r="4.0" fill="none" stroke="#111" stroke-width="1.0"/>
<circle cx="453.25" cy="415.26" r="4.0" fill="none" stroke="#111" stroke-width="1.0"/>
<circle cx="470.78" cy="349.69" r="4.0" fill="none" stroke="#111" stroke-width="1.0"/>
<circle cx="488.31" cy="340.63" r="4.0" fill="none" stroke="#111" stroke-width="1.0"/>
<circle cx="505.84" cy="329.67" r="4.0" fill="none" stroke="#111" stroke-width="1.0"/>
<circle cx="523.37" cy="319.63" r="4.0" fill="none" stroke="#111" stroke-width="1.0"/>
<circle cx="540.9" cy="308.64" r="4.0" fill="none" stroke="#111" stroke-width="1.0"/>
<circle cx="558.43" cy="308.99" r="4.0" fill="none" stroke="#111" stroke-width="1.0"/>
<circle cx="575.96" cy="299.26" r="4.0" fill="none" stroke="#111" stroke-width="1.0"/>
<circle cx="593.49" cy="295.88" r="4.0" fill="none" stroke="#111" stroke-width="1.0"/>
<circle cx="383.13" cy="370.39" r="4.0" fill="none" stroke="#111" stroke-width="1.0"/>
<circle cx="400.66" cy="413.85" r="4.0" fill="none" stroke="#111" stroke-width="1.0"/>
<circle cx="418.19" cy="384.61" r="4.0" fill="none" stroke="#111" stroke-width="1.0"/>
<circle cx="435.72" cy="360.79" r="4.0" fill="none" stroke="#111" stroke-width="1.0"/>
<circle cx="453.25" cy="387.66" r="4.0" fill="none" stroke="#111" stroke-width="1.0"/>
<circle cx="470.78" cy="350.57" r="4.0" fill="none" stroke="#111" stroke-width="1.0"/>
<circle cx="488.31" cy="340.74" r="4.0" fill="none" stroke="#111" stroke-width="1.0"/>
<circle cx="505.84" cy="328.07" r="4.0" fill="none" stroke="#111" stroke-width="1.0"/>
<circle cx="523.37" cy="321.02" r="4.0" fill="none" stroke="#111" stroke-width="1.0"/>
<circle cx="540.9" cy="312.1" r="4.0" fill="none" stroke="#111" stroke-width="1.0"/>
<circle cx="558.43" cy="305.77" r="4.0" fill="none" stroke="#111" stroke-width="1.0"/>
<circle cx="575.96" cy="298.23" r="4.0" fill="none" stroke="#111" stroke-width="1.0"/>
<circle cx="593.49" cy="294.72" r="4.0" fill="none" stroke="#111" stroke-width="1.0"/>
<circle cx="383.13" cy="358.48" r="4.0" fill="none" stroke="#111" stroke-width="1.0"/>
<circle cx="400.66" cy="408.03" r="4.0" fill="none" stroke="#111" stroke-width="1.0"/>
<circle cx="418.19" cy="396.07" r="4.0" fill="none" stroke="#111" stroke-width="1.0"/>
<circle cx="435.72" cy="354.66" r="4.0" fill="none" stroke="#111" stroke-width="1.0"/>
<circle cx="453.25" cy="398.9" r="4.0" fill="none" stroke="#111" stroke-width="1.0"/>
<circle cx="470.78" cy="352.56" r="4.0" fill="none" stroke="#111" stroke-width="1.0"/>
<circle cx="488.31" cy="337.79" r="4.0" fill="none" stroke="#111" stroke-width="1.0"/>
<circle cx="505.84" cy="328.93" r="4.0" fill="none" stroke="#111" stroke-width="1.0"/>
<circle cx="523.37" cy="318.64" r="4.0" fill="none" stroke="#111" stroke-width="1.0"/>
<circle cx="540.9" cy="311.42" r="4.0" fill="none" stroke="#111" stroke-width="1.0"/>
<circle cx="558.43" cy="305.22" r="4.0" fill="none" stroke="#111" stroke-width="1.0"/>
<circle cx="575.96" cy="295.87" r="4.0" fill="none" stroke="#111" stroke-width="1.0"/>
<circle cx="593.49" cy="295.13" r="4.0" fill="none" stroke="#111" stroke-width="1.0"/>
<polygon points="383.13,362.61 387.73,367.21 383.13,371.81 378.53,367.21" fill="#000" stroke="#000" stroke-width="0.6"/>
<polygon points="400.66,411.84 405.26,416.44 400.66,421.04 396.06,416.44" fill="#000" stroke="#000" stroke-width="0.6"/>
<polygon points="418.19,391.69 422.79,396.29 418.19,400.89 413.59,396.29" fill="#000" stroke="#000" stroke-width="0.6"/>
<polygon points="435.72,360 440.32,364.6 435.72,369.2 431.12,364.6" fill="#000" stroke="#000" stroke-width="0.6"/>
<polygon points="453.25,388.98 457.85,393.58 453.25,398.18 448.65,393.58" fill="#000" stroke="#000" stroke-width="0.6"/>
<polygon points="470.78,346.22 475.38,350.82 470.78,355.42 466.18,350.82" fill="#000" stroke="#000" stroke-width="0.6"/>
<polygon points="488.31,335.45 492.91,340.05 488.31,344.65 483.71,340.05" fill="#000" stroke="#000" stroke-width="0.6"/>
<polygon points="505.84,323.24 510.44,327.84 505.84,332.44 501.24,327.84" fill="#000" stroke="#000" stroke-width="0.6"/>
<polygon points="523.37,315.97 527.97,320.57 523.37,325.17 518.77,320.57" fill="#000" stroke="#000" stroke-width="0.6"/>
<polygon points="540.9,303.69 545.5,308.29 540.9,312.89 536.3,308.29" fill="#000" stroke="#000" stroke-width="0.6"/>
<polygon points="558.43,303.1 563.03,307.7 558.43,312.3 553.83,307.7" fill="#000" stroke="#000" stroke-width="0.6"/>
<polygon points="575.96,293.75 580.56,298.35 575.96,302.95 571.36,298.35" fill="#000" stroke="#000" stroke-width="0.6"/>
<polygon points="593.49,288.76 598.09,293.36 593.49,297.96 588.89,293.36" fill="#000" stroke="#000" stroke-width="0.6"/>
<circle cx="383.13" cy="354.46" r="4.0" fill="none" stroke="#111" stroke-width="1.0"/>
<circle cx="400.66" cy="415.18" r="4.0" fill="none" stroke="#111" stroke-width="1.0"/>
<circle cx="418.19" cy="388.34" r="4.0" fill="none" stroke="#111" stroke-width="1.0"/>
<circle cx="435.72" cy="367.68" r="4.0" fill="none" stroke="#111" stroke-width="1.0"/>
<circle cx="453.25" cy="384.23" r="4.0" fill="none" stroke="#111" stroke-width="1.0"/>
<circle cx="470.78" cy="349.27" r="4.0" fill="none" stroke="#111" stroke-width="1.0"/>
<circle cx="488.31" cy="338.08" r="4.0" fill="none" stroke="#111" stroke-width="1.0"/>
<circle cx="505.84" cy="325.73" r="4.0" fill="none" stroke="#111" stroke-width="1.0"/>
<circle cx="523.37" cy="314.51" r="4.0" fill="none" stroke="#111" stroke-width="1.0"/>
<circle cx="540.9" cy="308.4" r="4.0" fill="none" stroke="#111" stroke-width="1.0"/>
<circle cx="558.43" cy="303" r="4.0" fill="none" stroke="#111" stroke-width="1.0"/>
<circle cx="575.96" cy="296.97" r="4.0" fill="none" stroke="#111" stroke-width="1.0"/>
<circle cx="593.49" cy="291.42" r="4.0" fill="none" stroke="#111" stroke-width="1.0"/>
<circle cx="383.13" cy="370.38" r="4.0" fill="none" stroke="#111" stroke-width="1.0"/>
<circle cx="400.66" cy="420.78" r="4.0" fill="none" stroke="#111" stroke-width="1.0"/>
<circle cx="418.19" cy="387.01" r="4.0" fill="none" stroke="#111" stroke-width="1.0"/>
<circle cx="435.72" cy="353.08" r="4.0" fill="none" stroke="#111" stroke-width="1.0"/>
<circle cx="453.25" cy="414.09" r="4.0" fill="none" stroke="#111" stroke-width="1.0"/>
<circle cx="470.78" cy="348.54" r="4.0" fill="none" stroke="#111" stroke-width="1.0"/>
<circle cx="488.31" cy="338.71" r="4.0" fill="none" stroke="#111" stroke-width="1.0"/>
<circle cx="505.84" cy="326.66" r="4.0" fill="none" stroke="#111" stroke-width="1.0"/>
<circle cx="523.37" cy="318.88" r="4.0" fill="none" stroke="#111" stroke-width="1.0"/>
<circle cx="540.9" cy="307.89" r="4.0" fill="none" stroke="#111" stroke-width="1.0"/>
<circle cx="558.43" cy="306.9" r="4.0" fill="none" stroke="#111" stroke-width="1.0"/>
<circle cx="575.96" cy="302.25" r="4.0" fill="none" stroke="#111" stroke-width="1.0"/>
<circle cx="593.49" cy="292.72" r="4.0" fill="none" stroke="#111" stroke-width="1.0"/>
<circle cx="383.13" cy="360.9" r="4.0" fill="none" stroke="#111" stroke-width="1.0"/>
<circle cx="400.66" cy="426.11" r="4.0" fill="none" stroke="#111" stroke-width="1.0"/>
<circle cx="418.19" cy="400.85" r="4.0" fill="none" stroke="#111" stroke-width="1.0"/>
<circle cx="435.72" cy="363.34" r="4.0" fill="none" stroke="#111" stroke-width="1.0"/>
<circle cx="453.25" cy="392.62" r="4.0" fill="none" stroke="#111" stroke-width="1.0"/>
<circle cx="470.78" cy="346.33" r="4.0" fill="none" stroke="#111" stroke-width="1.0"/>
<circle cx="488.31" cy="336.95" r="4.0" fill="none" stroke="#111" stroke-width="1.0"/>
<circle cx="505.84" cy="324.95" r="4.0" fill="none" stroke="#111" stroke-width="1.0"/>
<circle cx="523.37" cy="315.98" r="4.0" fill="none" stroke="#111" stroke-width="1.0"/>
<circle cx="540.9" cy="310.09" r="4.0" fill="none" stroke="#111" stroke-width="1.0"/>
<circle cx="558.43" cy="300.97" r="4.0" fill="none" stroke="#111" stroke-width="1.0"/>
<circle cx="575.96" cy="297.58" r="4.0" fill="none" stroke="#111" stroke-width="1.0"/>
<circle cx="593.49" cy="292.77" r="4.0" fill="none" stroke="#111" stroke-width="1.0"/>
<circle cx="383.13" cy="362.58" r="4.0" fill="none" stroke="#111" stroke-width="1.0"/>
<circle cx="400.66" cy="413.66" r="4.0" fill="none" stroke="#111" stroke-width="1.0"/>
<circle cx="418.19" cy="391.2" r="4.0" fill="none" stroke="#111" stroke-width="1.0"/>
<circle cx="435.72" cy="360" r="4.0" fill="none" stroke="#111" stroke-width="1.0"/>
<circle cx="453.25" cy="392.25" r="4.0" fill="none" stroke="#111" stroke-width="1.0"/>
<circle cx="470.78" cy="343.89" r="4.0" fill="none" stroke="#111" stroke-width="1.0"/>
<circle cx="488.31" cy="336.3" r="4.0" fill="none" stroke="#111" stroke-width="1.0"/>
<circle cx="505.84" cy="325.78" r="4.0" fill="none" stroke="#111" stroke-width="1.0"/>
<circle cx="523.37" cy="314.73" r="4.0" fill="none" stroke="#111" stroke-width="1.0"/>
<circle cx="540.9" cy="308.06" r="4.0" fill="none" stroke="#111" stroke-width="1.0"/>
<circle cx="558.43" cy="301.35" r="4.0" fill="none" stroke="#111" stroke-width="1.0"/>
<circle cx="575.96" cy="294.46" r="4.0" fill="none" stroke="#111" stroke-width="1.0"/>
<circle cx="593.49" cy="291.18" r="4.0" fill="none" stroke="#111" stroke-width="1.0"/>
<circle cx="383.13" cy="364.8" r="4.0" fill="none" stroke="#111" stroke-width="1.0"/>
<circle cx="400.66" cy="414.96" r="4.0" fill="none" stroke="#111" stroke-width="1.0"/>
<circle cx="418.19" cy="405.15" r="4.0" fill="none" stroke="#111" stroke-width="1.0"/>
<circle cx="435.72" cy="358.75" r="4.0" fill="none" stroke="#111" stroke-width="1.0"/>
<circle cx="453.25" cy="391.79" r="4.0" fill="none" stroke="#111" stroke-width="1.0"/>
<circle cx="470.78" cy="345.3" r="4.0" fill="none" stroke="#111" stroke-width="1.0"/>
<circle cx="488.31" cy="334.16" r="4.0" fill="none" stroke="#111" stroke-width="1.0"/>
<circle cx="505.84" cy="323.36" r="4.0" fill="none" stroke="#111" stroke-width="1.0"/>
<circle cx="523.37" cy="317.35" r="4.0" fill="none" stroke="#111" stroke-width="1.0"/>
<circle cx="540.9" cy="307.75" r="4.0" fill="none" stroke="#111" stroke-width="1.0"/>
<circle cx="558.43" cy="303.54" r="4.0" fill="none" stroke="#111" stroke-width="1.0"/>
<circle cx="575.96" cy="294.4" r="4.0" fill="none" stroke="#111" stroke-width="1.0"/>
<circle cx="593.49" cy="290.98" r="4.0" fill="none" stroke="#111" stroke-width="1.0"/>
<polygon points="383.13,367.69 387.73,372.29 383.13,376.89 378.53,372.29" fill="#000" stroke="#000" stroke-width="0.6"/>
<polygon points="400.66,408.41 405.26,413.01 400.66,417.61 396.06,413.01" fill="#000" stroke="#000" stroke-width="0.6"/>
<polygon points="418.19,377.7 422.79,382.3 418.19,386.9 413.59,382.3" fill="#000" stroke="#000" stroke-width="0.6"/>
<polygon points="435.72,362.2 440.32,366.8 435.72,371.4 431.12,366.8" fill="#000" stroke="#000" stroke-width="0.6"/>
<polygon points="453.25,393.86 457.85,398.46 453.25,403.06 448.65,398.46" fill="#000" stroke="#000" stroke-width="0.6"/>
<polygon points="470.78,340.83 475.38,345.43 470.78,350.03 466.18,345.43" fill="#000" stroke="#000" stroke-width="0.6"/>
<polygon points="488.31,331.11 492.91,335.71 488.31,340.31 483.71,335.71" fill="#000" stroke="#000" stroke-width="0.6"/>
<polygon points="505.84,319.51 510.44,324.11 505.84,328.71 501.24,324.11" fill="#000" stroke="#000" stroke-width="0.6"/>
<polygon points="523.37,309.6 527.97,314.2 523.37,318.8 518.77,314.2" fill="#000" stroke="#000" stroke-width="0.6"/>
<polygon points="540.9,304.12 545.5,308.72 540.9,313.32 536.3,308.72" fill="#000" stroke="#000" stroke-width="0.6"/>
<polygon points="558.43,296.06 563.03,300.66 558.43,305.26 553.83,300.66" fill="#000" stroke="#000" stroke-width="0.6"/>
<polygon points="575.96,291.25 580.56,295.85 575.96,300.45 571.36,295.85" fill="#000" stroke="#000" stroke-width="0.6"/>
<polygon points="593.49,284.85 598.09,289.45 593.49,294.05 588.89,289.45" fill="#000" stroke="#000" stroke-width="0.6"/>
<circle cx="383.13" cy="361.54" r="4.0" fill="none" stroke="#111" stroke-width="1.0"/>
<circle cx="400.66" cy="411.81" r="4.0" fill="none" stroke="#111" stroke-width="1.0"/>
<circle cx="418.19" cy="398.12" r="4.0" fill="none" stroke="#111" stroke-width="1.0"/>
<circle cx="435.72" cy="367.43" r="4.0" fill="none" stroke="#111" stroke-width="1.0"/>
<circle cx="453.25" cy="385.29" r="4.0" fill="none" stroke="#111" stroke-width="1.0"/>
<circle cx="470.78" cy="343.83" r="4.0" fill="none" stroke="#111" stroke-width="1.0"/>
<circle cx="488.31" cy="334.18" r="4.0" fill="none" stroke="#111" stroke-width="1.0"/>
<circle cx="505.84" cy="321.83" r="4.0" fill="none" stroke="#111" stroke-width="1.0"/>
<circle cx="523.37" cy="316.01" r="4.0" fill="none" stroke="#111" stroke-width="1.0"/>
<circle cx="540.9" cy="306.1" r="4.0" fill="none" stroke="#111" stroke-width="1.0"/>
<circle cx="558.43" cy="300.29" r="4.0" fill="none" stroke="#111" stroke-width="1.0"/>
<circle cx="575.96" cy="294.22" r="4.0" fill="none" stroke="#111" stroke-width="1.0"/>
<circle cx="593.49" cy="291.23" r="4.0" fill="none" stroke="#111" stroke-width="1.0"/>
<circle cx="383.13" cy="364.31" r="4.0" fill="none" stroke="#111" stroke-width="1.0"/>
<circle cx="400.66" cy="409.36" r="4.0" fill="none" stroke="#111" stroke-width="1.0"/>
<circle cx="418.19" cy="401.53" r="4.0" fill="none" stroke="#111" stroke-width="1.0"/>
<circle cx="435.72" cy="364.91" r="4.0" fill="none" stroke="#111" stroke-width="1.0"/>
<circle cx="453.25" cy="391.11" r="4.0" fill="none" stroke="#111" stroke-width="1.0"/>
<circle cx="470.78" cy="340.43" r="4.0" fill="none" stroke="#111" stroke-width="1.0"/>
<circle cx="488.31" cy="333.23" r="4.0" fill="none" stroke="#111" stroke-width="1.0"/>
<circle cx="505.84" cy="320.8" r="4.0" fill="none" stroke="#111" stroke-width="1.0"/>
<circle cx="523.37" cy="312.07" r="4.0" fill="none" stroke="#111" stroke-width="1.0"/>
<circle cx="540.9" cy="306.04" r="4.0" fill="none" stroke="#111" stroke-width="1.0"/>
<circle cx="558.43" cy="299.79" r="4.0" fill="none" stroke="#111" stroke-width="1.0"/>
<circle cx="575.96" cy="292.72" r="4.0" fill="none" stroke="#111" stroke-width="1.0"/>
<circle cx="593.49" cy="291.13" r="4.0" fill="none" stroke="#111" stroke-width="1.0"/>
<circle cx="383.13" cy="356.52" r="4.0" fill="none" stroke="#111" stroke-width="1.0"/>
<circle cx="400.66" cy="413.7" r="4.0" fill="none" stroke="#111" stroke-width="1.0"/>
<circle cx="418.19" cy="386.1" r="4.0" fill="none" stroke="#111" stroke-width="1.0"/>
<circle cx="435.72" cy="364.72" r="4.0" fill="none" stroke="#111" stroke-width="1.0"/>
<circle cx="453.25" cy="410.84" r="4.0" fill="none" stroke="#111" stroke-width="1.0"/>
<circle cx="470.78" cy="340.85" r="4.0" fill="none" stroke="#111" stroke-width="1.0"/>
<circle cx="488.31" cy="333.2" r="4.0" fill="none" stroke="#111" stroke-width="1.0"/>
<circle cx="505.84" cy="319.06" r="4.0" fill="none" stroke="#111" stroke-width="1.0"/>
<circle cx="523.37" cy="313.07" r="4.0" fill="none" stroke="#111" stroke-width="1.0"/>
<circle cx="540.9" cy="304.38" r="4.0" fill="none" stroke="#111" stroke-width="1.0"/>
<circle cx="558.43" cy="300.98" r="4.0" fill="none" stroke="#111" stroke-width="1.0"/>
<circle cx="575.96" cy="293.1" r="4.0" fill="none" stroke="#111" stroke-width="1.0"/>
<circle cx="593.49" cy="291.44" r="4.0" fill="none" stroke="#111" stroke-width="1.0"/>
<circle cx="383.13" cy="370.27" r="4.0" fill="none" stroke="#111" stroke-width="1.0"/>
<circle cx="400.66" cy="426.66" r="4.0" fill="none" stroke="#111" stroke-width="1.0"/>
<circle cx="418.19" cy="382.78" r="4.0" fill="none" stroke="#111" stroke-width="1.0"/>
<circle cx="435.72" cy="352.92" r="4.0" fill="none" stroke="#111" stroke-width="1.0"/>
<circle cx="453.25" cy="378.34" r="4.0" fill="none" stroke="#111" stroke-width="1.0"/>
<circle cx="470.78" cy="343" r="4.0" fill="none" stroke="#111" stroke-width="1.0"/>
<circle cx="488.31" cy="330.07" r="4.0" fill="none" stroke="#111" stroke-width="1.0"/>
<circle cx="505.84" cy="319.15" r="4.0" fill="none" stroke="#111" stroke-width="1.0"/>
<circle cx="523.37" cy="312.17" r="4.0" fill="none" stroke="#111" stroke-width="1.0"/>
<circle cx="540.9" cy="304.42" r="4.0" fill="none" stroke="#111" stroke-width="1.0"/>
<circle cx="558.43" cy="301.12" r="4.0" fill="none" stroke="#111" stroke-width="1.0"/>
<circle cx="575.96" cy="293.56" r="4.0" fill="none" stroke="#111" stroke-width="1.0"/>
<circle cx="593.49" cy="289.57" r="4.0" fill="none" stroke="#111" stroke-width="1.0"/>
<circle cx="383.13" cy="368.76" r="4.0" fill="none" stroke="#111" stroke-width="1.0"/>
<circle cx="400.66" cy="425.37" r="4.0" fill="none" stroke="#111" stroke-width="1.0"/>
<circle cx="418.19" cy="391.37" r="4.0" fill="none" stroke="#111" stroke-width="1.0"/>
<circle cx="435.72" cy="366.01" r="4.0" fill="none" stroke="#111" stroke-width="1.0"/>
<circle cx="453.25" cy="385.04" r="4.0" fill="none" stroke="#111" stroke-width="1.0"/>
<circle cx="470.78" cy="339.58" r="4.0" fill="none" stroke="#111" stroke-width="1.0"/>
<circle cx="488.31" cy="329.11" r="4.0" fill="none" stroke="#111" stroke-width="1.0"/>
<circle cx="505.84" cy="319.54" r="4.0" fill="none" stroke="#111" stroke-width="1.0"/>
<circle cx="523.37" cy="313.07" r="4.0" fill="none" stroke="#111" stroke-width="1.0"/>
<circle cx="540.9" cy="307.29" r="4.0" fill="none" stroke="#111" stroke-width="1.0"/>
<circle cx="558.43" cy="296.99" r="4.0" fill="none" stroke="#111" stroke-width="1.0"/>
<circle cx="575.96" cy="294.65" r="4.0" fill="none" stroke="#111" stroke-width="1.0"/>
<circle cx="593.49" cy="288.71" r="4.0" fill="none" stroke="#111" stroke-width="1.0"/>
<polygon points="383.13,353.23 387.73,357.83 383.13,362.43 378.53,357.83" fill="#000" stroke="#000" stroke-width="0.6"/>
<polygon points="400.66,418.66 405.26,423.26 400.66,427.86 396.06,423.26" fill="#000" stroke="#000" stroke-width="0.6"/>
<polygon points="418.19,393.77 422.79,398.37 418.19,402.97 413.59,398.37" fill="#000" stroke="#000" stroke-width="0.6"/>
<polygon points="435.72,353.11 440.32,357.71 435.72,362.31 431.12,357.71" fill="#000" stroke="#000" stroke-width="0.6"/>
<polygon points="453.25,391.26 457.85,395.86 453.25,400.46 448.65,395.86" fill="#000" stroke="#000" stroke-width="0.6"/>
<polygon points="470.78,337.66 475.38,342.26 470.78,346.86 466.18,342.26" fill="#000" stroke="#000" stroke-width="0.6"/>
<polygon points="488.31,324.75 492.91,329.35 488.31,333.95 483.71,329.35" fill="#000" stroke="#000" stroke-width="0.6"/>
<polygon points="505.84,315.8 510.44,320.4 505.84,325 501.24,320.4" fill="#000" stroke="#000" stroke-width="0.6"/>
<polygon points="523.37,307.56 527.97,312.16 523.37,316.76 518.77,312.16" fill="#000" stroke="#000" stroke-width="0.6"/>
<polygon points="540.9,299.44 545.5,304.04 540.9,308.64 536.3,304.04" fill="#000" stroke="#000" stroke-width="0.6"/>
<polygon points="558.43,291.4 563.03,296 558.43,300.6 553.83,296" fill="#000" stroke="#000" stroke-width="0.6"/>
<polygon points="575.96,290.01 580.56,294.61 575.96,299.21 571.36,294.61" fill="#000" stroke="#000" stroke-width="0.6"/>
<polygon points="593.49,283.15 598.09,287.75 593.49,292.35 588.89,287.75" fill="#000" stroke="#000" stroke-width="0.6"/>
<circle cx="383.13" cy="362.27" r="4.0" fill="none" stroke="#111" stroke-width="1.0"/>
<circle cx="400.66" cy="410.15" r="4.0" fill="none" stroke="#111" stroke-width="1.0"/>
<circle cx="418.19" cy="401.48" r="4.0" fill="none" stroke="#111" stroke-width="1.0"/>
<circle cx="435.72" cy="354.87" r="4.0" fill="none" stroke="#111" stroke-width="1.0"/>
<circle cx="453.25" cy="380.81" r="4.0" fill="none" stroke="#111" stroke-width="1.0"/>
<circle cx="470.78" cy="338.62" r="4.0" fill="none" stroke="#111" stroke-width="1.0"/>
<circle cx="488.31" cy="329.61" r="4.0" fill="none" stroke="#111" stroke-width="1.0"/>
<circle cx="505.84" cy="321.28" r="4.0" fill="none" stroke="#111" stroke-width="1.0"/>
<circle cx="523.37" cy="309.33" r="4.0" fill="none" stroke="#111" stroke-width="1.0"/>
<circle cx="540.9" cy="303.54" r="4.0" fill="none" stroke="#111" stroke-width="1.0"/>
<circle cx="558.43" cy="297.82" r="4.0" fill="none" stroke="#111" stroke-width="1.0"/>
<circle cx="575.96" cy="292.48" r="4.0" fill="none" stroke="#111" stroke-width="1.0"/>
<circle cx="593.49" cy="287.92" r="4.0" fill="none" stroke="#111" stroke-width="1.0"/>
<circle cx="383.13" cy="362.43" r="4.0" fill="none" stroke="#111" stroke-width="1.0"/>
<circle cx="400.66" cy="418.15" r="4.0" fill="none" stroke="#111" stroke-width="1.0"/>
<circle cx="418.19" cy="394.18" r="4.0" fill="none" stroke="#111" stroke-width="1.0"/>
<circle cx="435.72" cy="355.2" r="4.0" fill="none" stroke="#111" stroke-width="1.0"/>
<circle cx="453.25" cy="415.69" r="4.0" fill="none" stroke="#111" stroke-width="1.0"/>
<circle cx="470.78" cy="336.91" r="4.0" fill="none" stroke="#111" stroke-width="1.0"/>
<circle cx="488.31" cy="328.6" r="4.0" fill="none" stroke="#111" stroke-width="1.0"/>
<circle cx="505.84" cy="317.38" r="4.0" fill="none" stroke="#111" stroke-width="1.0"/>
<circle cx="523.37" cy="309.41" r="4.0" fill="none" stroke="#111" stroke-width="1.0"/>
<circle cx="540.9" cy="299.91" r="4.0" fill="none" stroke="#111" stroke-width="1.0"/>
<circle cx="558.43" cy="297.19" r="4.0" fill="none" stroke="#111" stroke-width="1.0"/>
<circle cx="575.96" cy="289.83" r="4.0" fill="none" stroke="#111" stroke-width="1.0"/>
<circle cx="593.49" cy="286.1" r="4.0" fill="none" stroke="#111" stroke-width="1.0"/>
<circle cx="383.13" cy="366.15" r="4.0" fill="none" stroke="#111" stroke-width="1.0"/>
<circle cx="400.66" cy="413.6" r="4.0" fill="none" stroke="#111" stroke-width="1.0"/>
<circle cx="418.19" cy="391.42" r="4.0" fill="none" stroke="#111" stroke-width="1.0"/>
<circle cx="435.72" cy="364.38" r="4.0" fill="none" stroke="#111" stroke-width="1.0"/>
<circle cx="453.25" cy="408.52" r="4.0" fill="none" stroke="#111" stroke-width="1.0"/>
<circle cx="470.78" cy="336.71" r="4.0" fill="none" stroke="#111" stroke-width="1.0"/>
<circle cx="488.31" cy="329.27" r="4.0" fill="none" stroke="#111" stroke-width="1.0"/>
<circle cx="505.84" cy="317.29" r="4.0" fill="none" stroke="#111" stroke-width="1.0"/>
<circle cx="523.37" cy="311.69" r="4.0" fill="none" stroke="#111" stroke-width="1.0"/>
<circle cx="540.9" cy="303.09" r="4.0" fill="none" stroke="#111" stroke-width="1.0"/>
<circle cx="558.43" cy="297.3" r="4.0" fill="none" stroke="#111" stroke-width="1.0"/>
<circle cx="575.96" cy="290.84" r="4.0" fill="none" stroke="#111" stroke-width="1.0"/>
<circle cx="593.49" cy="286.43" r="4.0" fill="none" stroke="#111" stroke-width="1.0"/>
<circle cx="383.13" cy="360.8" r="4.0" fill="none" stroke="#111" stroke-width="1.0"/>
<circle cx="400.66" cy="410.84" r="4.0" fill="none" stroke="#111" stroke-width="1.0"/>
<circle cx="418.19" cy="396.42" r="4.0" fill="none" stroke="#111" stroke-width="1.0"/>
<circle cx="435.72" cy="354.66" r="4.0" fill="none" stroke="#111" stroke-width="1.0"/>
<circle cx="453.25" cy="392.14" r="4.0" fill="none" stroke="#111" stroke-width="1.0"/>
<circle cx="470.78" cy="336.97" r="4.0" fill="none" stroke="#111" stroke-width="1.0"/>
<circle cx="488.31" cy="326.87" r="4.0" fill="none" stroke="#111" stroke-width="1.0"/>
<circle cx="505.84" cy="318.3" r="4.0" fill="none" stroke="#111" stroke-width="1.0"/>
<circle cx="523.37" cy="308.47" r="4.0" fill="none" stroke="#111" stroke-width="1.0"/>
<circle cx="540.9" cy="302.72" r="4.0" fill="none" stroke="#111" stroke-width="1.0"/>
<circle cx="558.43" cy="294.74" r="4.0" fill="none" stroke="#111" stroke-width="1.0"/>
<circle cx="575.96" cy="290.95" r="4.0" fill="none" stroke="#111" stroke-width="1.0"/>
<circle cx="593.49" cy="285.76" r="4.0" fill="none" stroke="#111" stroke-width="1.0"/>
<circle cx="383.13" cy="372.05" r="4.0" fill="none" stroke="#111" stroke-width="1.0"/>
<circle cx="400.66" cy="418.11" r="4.0" fill="none" stroke="#111" stroke-width="1.0"/>
<circle cx="418.19" cy="395.32" r="4.0" fill="none" stroke="#111" stroke-width="1.0"/>
<circle cx="435.72" cy="352.93" r="4.0" fill="none" stroke="#111" stroke-width="1.0"/>
<circle cx="453.25" cy="380.26" r="4.0" fill="none" stroke="#111" stroke-width="1.0"/>
<circle cx="470.78" cy="337.53" r="4.0" fill="none" stroke="#111" stroke-width="1.0"/>
<circle cx="488.31" cy="330.29" r="4.0" fill="none" stroke="#111" stroke-width="1.0"/>
<circle cx="505.84" cy="315.51" r="4.0" fill="none" stroke="#111" stroke-width="1.0"/>
<circle cx="523.37" cy="309.18" r="4.0" fill="none" stroke="#111" stroke-width="1.0"/>
<circle cx="540.9" cy="302.9" r="4.0" fill="none" stroke="#111" stroke-width="1.0"/>
<circle cx="558.43" cy="297.13" r="4.0" fill="none" stroke="#111" stroke-width="1.0"/>
<circle cx="575.96" cy="290.67" r="4.0" fill="none" stroke="#111" stroke-width="1.0"/>
<circle cx="593.49" cy="285.93" r="4.0" fill="none" stroke="#111" stroke-width="1.0"/>
<circle cx="383.13" cy="354.83" r="4.0" fill="none" stroke="#111" stroke-width="1.0"/>
<circle cx="400.66" cy="410.64" r="4.0" fill="none" stroke="#111" stroke-width="1.0"/>
<circle cx="418.19" cy="389.46" r="4.0" fill="none" stroke="#111" stroke-width="1.0"/>
<circle cx="435.72" cy="356.15" r="4.0" fill="none" stroke="#111" stroke-width="1.0"/>
<circle cx="453.25" cy="394.38" r="4.0" fill="none" stroke="#111" stroke-width="1.0"/>
<circle cx="470.78" cy="334.91" r="4.0" fill="none" stroke="#111" stroke-width="1.0"/>
<circle cx="488.31" cy="326.66" r="4.0" fill="none" stroke="#111" stroke-width="1.0"/>
<circle cx="505.84" cy="315.97" r="4.0" fill="none" stroke="#111" stroke-width="1.0"/>
<circle cx="523.37" cy="308.74" r="4.0" fill="none" stroke="#111" stroke-width="1.0"/>
<circle cx="540.9" cy="301.25" r="4.0" fill="none" stroke="#111" stroke-width="1.0"/>
<circle cx="558.43" cy="296.24" r="4.0" fill="none" stroke="#111" stroke-width="1.0"/>
<circle cx="575.96" cy="289.78" r="4.0" fill="none" stroke="#111" stroke-width="1.0"/>
<circle cx="593.49" cy="285.85" r="4.0" fill="none" stroke="#111" stroke-width="1.0"/>
<circle cx="383.13" cy="373.07" r="4.0" fill="none" stroke="#111" stroke-width="1.0"/>
<circle cx="400.66" cy="409.64" r="4.0" fill="none" stroke="#111" stroke-width="1.0"/>
<circle cx="418.19" cy="402.69" r="4.0" fill="none" stroke="#111" stroke-width="1.0"/>
<circle cx="435.72" cy="353.71" r="4.0" fill="none" stroke="#111" stroke-width="1.0"/>
<circle cx="453.25" cy="390.23" r="4.0" fill="none" stroke="#111" stroke-width="1.0"/>
<circle cx="470.78" cy="334.45" r="4.0" fill="none" stroke="#111" stroke-width="1.0"/>
<circle cx="488.31" cy="324.03" r="4.0" fill="none" stroke="#111" stroke-width="1.0"/>
<circle cx="505.84" cy="317.38" r="4.0" fill="none" stroke="#111" stroke-width="1.0"/>
<circle cx="523.37" cy="308.97" r="4.0" fill="none" stroke="#111" stroke-width="1.0"/>
<circle cx="540.9" cy="300.62" r="4.0" fill="none" stroke="#111" stroke-width="1.0"/>
<circle cx="558.43" cy="292.18" r="4.0" fill="none" stroke="#111" stroke-width="1.0"/>
<circle cx="575.96" cy="288.34" r="4.0" fill="none" stroke="#111" stroke-width="1.0"/>
<circle cx="593.49" cy="286.88" r="4.0" fill="none" stroke="#111" stroke-width="1.0"/>
<circle cx="383.13" cy="371.31" r="4.0" fill="none" stroke="#111" stroke-width="1.0"/>
<circle cx="400.66" cy="411.53" r="4.0" fill="none" stroke="#111" stroke-width="1.0"/>
<circle cx="418.19" cy="383" r="4.0" fill="none" stroke="#111" stroke-width="1.0"/>
<circle cx="435.72" cy="370.99" r="4.0" fill="none" stroke="#111" stroke-width="1.0"/>
<circle cx="453.25" cy="403.47" r="4.0" fill="none" stroke="#111" stroke-width="1.0"/>
<circle cx="470.78" cy="335.74" r="4.0" fill="none" stroke="#111" stroke-width="1.0"/>
<circle cx="488.31" cy="326.23" r="4.0" fill="none" stroke="#111" stroke-width="1.0"/>
<circle cx="505.84" cy="314.51" r="4.0" fill="none" stroke="#111" stroke-width="1.0"/>
<circle cx="523.37" cy="306.05" r="4.0" fill="none" stroke="#111" stroke-width="1.0"/>
<circle cx="540.9" cy="299.35" r="4.0" fill="none" stroke="#111" stroke-width="1.0"/>
<circle cx="558.43" cy="292.31" r="4.0" fill="none" stroke="#111" stroke-width="1.0"/>
<circle cx="575.96" cy="288.6" r="4.0" fill="none" stroke="#111" stroke-width="1.0"/>
<circle cx="593.49" cy="286.01" r="4.0" fill="none" stroke="#111" stroke-width="1.0"/>
<circle cx="383.13" cy="366.17" r="4.0" fill="none" stroke="#111" stroke-width="1.0"/>
<circle cx="400.66" cy="418.25" r="4.0" fill="none" stroke="#111" stroke-width="1.0"/>
<circle cx="418.19" cy="403.62" r="4.0" fill="none" stroke="#111" stroke-width="1.0"/>
<circle cx="435.72" cy="361.3" r="4.0" fill="none" stroke="#111" stroke-width="1.0"/>
<circle cx="453.25" cy="378.87" r="4.0" fill="none" stroke="#111" stroke-width="1.0"/>
<circle cx="470.78" cy="332.41" r="4.0" fill="none" stroke="#111" stroke-width="1.0"/>
<circle cx="488.31" cy="326.79" r="4.0" fill="none" stroke="#111" stroke-width="1.0"/>
<circle cx="505.84" cy="313.24" r="4.0" fill="none" stroke="#111" stroke-width="1.0"/>
<circle cx="523.37" cy="305.59" r="4.0" fill="none" stroke="#111" stroke-width="1.0"/>
<circle cx="540.9" cy="297.53" r="4.0" fill="none" stroke="#111" stroke-width="1.0"/>
<circle cx="558.43" cy="293.72" r="4.0" fill="none" stroke="#111" stroke-width="1.0"/>
<circle cx="575.96" cy="290.27" r="4.0" fill="none" stroke="#111" stroke-width="1.0"/>
<circle cx="593.49" cy="286.02" r="4.0" fill="none" stroke="#111" stroke-width="1.0"/>
<circle cx="383.13" cy="359.99" r="4.0" fill="none" stroke="#111" stroke-width="1.0"/>
<circle cx="400.66" cy="408.51" r="4.0" fill="none" stroke="#111" stroke-width="1.0"/>
<circle cx="418.19" cy="402.02" r="4.0" fill="none" stroke="#111" stroke-width="1.0"/>
<circle cx="435.72" cy="370.23" r="4.0" fill="none" stroke="#111" stroke-width="1.0"/>
<circle cx="453.25" cy="387.4" r="4.0" fill="none" stroke="#111" stroke-width="1.0"/>
<circle cx="470.78" cy="330.81" r="4.0" fill="none" stroke="#111" stroke-width="1.0"/>
<circle cx="488.31" cy="324.69" r="4.0" fill="none" stroke="#111" stroke-width="1.0"/>
<circle cx="505.84" cy="315.13" r="4.0" fill="none" stroke="#111" stroke-width="1.0"/>
<circle cx="523.37" cy="304.98" r="4.0" fill="none" stroke="#111" stroke-width="1.0"/>
<circle cx="540.9" cy="297.81" r="4.0" fill="none" stroke="#111" stroke-width="1.0"/>
<circle cx="558.43" cy="292.01" r="4.0" fill="none" stroke="#111" stroke-width="1.0"/>
<circle cx="575.96" cy="287.15" r="4.0" fill="none" stroke="#111" stroke-width="1.0"/>
<circle cx="593.49" cy="282.42" r="4.0" fill="none" stroke="#111" stroke-width="1.0"/>
<circle cx="383.13" cy="358.97" r="4.0" fill="none" stroke="#111" stroke-width="1.0"/>
<circle cx="400.66" cy="407.37" r="4.0" fill="none" stroke="#111" stroke-width="1.0"/>
<circle cx="418.19" cy="398.47" r="4.0" fill="none" stroke="#111" stroke-width="1.0"/>
<circle cx="435.72" cy="356.77" r="4.0" fill="none" stroke="#111" stroke-width="1.0"/>
<circle cx="453.25" cy="400.1" r="4.0" fill="none" stroke="#111" stroke-width="1.0"/>
<circle cx="470.78" cy="330.64" r="4.0" fill="none" stroke="#111" stroke-width="1.0"/>
<circle cx="488.31" cy="322.39" r="4.0" fill="none" stroke="#111" stroke-width="1.0"/>
<circle cx="505.84" cy="314.07" r="4.0" fill="none" stroke="#111" stroke-width="1.0"/>
<circle cx="523.37" cy="305.28" r="4.0" fill="none" stroke="#111" stroke-width="1.0"/>
<circle cx="540.9" cy="296.85" r="4.0" fill="none" stroke="#111" stroke-width="1.0"/>
<circle cx="558.43" cy="291.06" r="4.0" fill="none" stroke="#111" stroke-width="1.0"/>
<circle cx="575.96" cy="287.06" r="4.0" fill="none" stroke="#111" stroke-width="1.0"/>
<circle cx="593.49" cy="284.18" r="4.0" fill="none" stroke="#111" stroke-width="1.0"/>
<circle cx="383.13" cy="365.95" r="4.0" fill="none" stroke="#111" stroke-width="1.0"/>
<circle cx="400.66" cy="420.21" r="4.0" fill="none" stroke="#111" stroke-width="1.0"/>
<circle cx="418.19" cy="386.88" r="4.0" fill="none" stroke="#111" stroke-width="1.0"/>
<circle cx="435.72" cy="369.17" r="4.0" fill="none" stroke="#111" stroke-width="1.0"/>
<circle cx="453.25" cy="378.18" r="4.0" fill="none" stroke="#111" stroke-width="1.0"/>
<circle cx="470.78" cy="331.74" r="4.0" fill="none" stroke="#111" stroke-width="1.0"/>
<circle cx="488.31" cy="321.95" r="4.0" fill="none" stroke="#111" stroke-width="1.0"/>
<circle cx="505.84" cy="313.96" r="4.0" fill="none" stroke="#111" stroke-width="1.0"/>
<circle cx="523.37" cy="303.7" r="4.0" fill="none" stroke="#111" stroke-width="1.0"/>
<circle cx="540.9" cy="296" r="4.0" fill="none" stroke="#111" stroke-width="1.0"/>
<circle cx="558.43" cy="292.88" r="4.0" fill="none" stroke="#111" stroke-width="1.0"/>
<circle cx="575.96" cy="288.35" r="4.0" fill="none" stroke="#111" stroke-width="1.0"/>
<circle cx="593.49" cy="282.67" r="4.0" fill="none" stroke="#111" stroke-width="1.0"/>
<circle cx="383.13" cy="358.07" r="4.0" fill="none" stroke="#111" stroke-width="1.0"/>
<circle cx="400.66" cy="407.23" r="4.0" fill="none" stroke="#111" stroke-width="1.0"/>
<circle cx="418.19" cy="394.31" r="4.0" fill="none" stroke="#111" stroke-width="1.0"/>
<circle cx="435.72" cy="367.27" r="4.0" fill="none" stroke="#111" stroke-width="1.0"/>
<circle cx="453.25" cy="406.86" r="4.0" fill="none" stroke="#111" stroke-width="1.0"/>
<circle cx="470.78" cy="330.12" r="4.0" fill="none" stroke="#111" stroke-width="1.0"/>
<circle cx="488.31" cy="321.67" r="4.0" fill="none" stroke="#111" stroke-width="1.0"/>
<circle cx="505.84" cy="312.7" r="4.0" fill="none" stroke="#111" stroke-width="1.0"/>
<circle cx="523.37" cy="301.13" r="4.0" fill="none" stroke="#111" stroke-width="1.0"/>
<circle cx="540.9" cy="296.58" r="4.0" fill="none" stroke="#111" stroke-width="1.0"/>
<circle cx="558.43" cy="290.74" r="4.0" fill="none" stroke="#111" stroke-width="1.0"/>
<circle cx="575.96" cy="285.01" r="4.0" fill="none" stroke="#111" stroke-width="1.0"/>
<circle cx="593.49" cy="282.44" r="4.0" fill="none" stroke="#111" stroke-width="1.0"/>
<circle cx="383.13" cy="358.68" r="4.0" fill="none" stroke="#111" stroke-width="1.0"/>
<circle cx="400.66" cy="409.3" r="4.0" fill="none" stroke="#111" stroke-width="1.0"/>
<circle cx="418.19" cy="383.84" r="4.0" fill="none" stroke="#111" stroke-width="1.0"/>
<circle cx="435.72" cy="366.71" r="4.0" fill="none" stroke="#111" stroke-width="1.0"/>
<circle cx="453.25" cy="382.96" r="4.0" fill="none" stroke="#111" stroke-width="1.0"/>
<circle cx="470.78" cy="328.86" r="4.0" fill="none" stroke="#111" stroke-width="1.0"/>
<circle cx="488.31" cy="319.41" r="4.0" fill="none" stroke="#111" stroke-width="1.0"/>
<circle cx="505.84" cy="310.33" r="4.0" fill="none" stroke="#111" stroke-width="1.0"/>
<circle cx="523.37" cy="303.38" r="4.0" fill="none" stroke="#111" stroke-width="1.0"/>
<circle cx="540.9" cy="293.42" r="4.0" fill="none" stroke="#111" stroke-width="1.0"/>
<circle cx="558.43" cy="288.94" r="4.0" fill="none" stroke="#111" stroke-width="1.0"/>
<circle cx="575.96" cy="285.61" r="4.0" fill="none" stroke="#111" stroke-width="1.0"/>
<circle cx="593.49" cy="280.86" r="4.0" fill="none" stroke="#111" stroke-width="1.0"/>
<circle cx="383.13" cy="373.42" r="4.0" fill="none" stroke="#111" stroke-width="1.0"/>
<circle cx="400.66" cy="419.95" r="4.0" fill="none" stroke="#111" stroke-width="1.0"/>
<circle cx="418.19" cy="395.07" r="4.0" fill="none" stroke="#111" stroke-width="1.0"/>
<circle cx="435.72" cy="361.62" r="4.0" fill="none" stroke="#111" stroke-width="1.0"/>
<circle cx="453.25" cy="407.8" r="4.0" fill="none" stroke="#111" stroke-width="1.0"/>
<circle cx="470.78" cy="330.11" r="4.0" fill="none" stroke="#111" stroke-width="1.0"/>
<circle cx="488.31" cy="324" r="4.0" fill="none" stroke="#111" stroke-width="1.0"/>
<circle cx="505.84" cy="312.52" r="4.0" fill="none" stroke="#111" stroke-width="1.0"/>
<circle cx="523.37" cy="304.7" r="4.0" fill="none" stroke="#111" stroke-width="1.0"/>
<circle cx="540.9" cy="295.04" r="4.0" fill="none" stroke="#111" stroke-width="1.0"/>
<circle cx="558.43" cy="290.12" r="4.0" fill="none" stroke="#111" stroke-width="1.0"/>
<circle cx="575.96" cy="285.18" r="4.0" fill="none" stroke="#111" stroke-width="1.0"/>
<circle cx="593.49" cy="282.74" r="4.0" fill="none" stroke="#111" stroke-width="1.0"/>
<circle cx="383.13" cy="354.83" r="4.0" fill="none" stroke="#111" stroke-width="1.0"/>
<circle cx="400.66" cy="408.28" r="4.0" fill="none" stroke="#111" stroke-width="1.0"/>
<circle cx="418.19" cy="403.29" r="4.0" fill="none" stroke="#111" stroke-width="1.0"/>
<circle cx="435.72" cy="351.57" r="4.0" fill="none" stroke="#111" stroke-width="1.0"/>
<circle cx="453.25" cy="401.57" r="4.0" fill="none" stroke="#111" stroke-width="1.0"/>
<circle cx="470.78" cy="327.41" r="4.0" fill="none" stroke="#111" stroke-width="1.0"/>
<circle cx="488.31" cy="322.05" r="4.0" fill="none" stroke="#111" stroke-width="1.0"/>
<circle cx="505.84" cy="310.25" r="4.0" fill="none" stroke="#111" stroke-width="1.0"/>
<circle cx="523.37" cy="300.6" r="4.0" fill="none" stroke="#111" stroke-width="1.0"/>
<circle cx="540.9" cy="296.13" r="4.0" fill="none" stroke="#111" stroke-width="1.0"/>
<circle cx="558.43" cy="291.57" r="4.0" fill="none" stroke="#111" stroke-width="1.0"/>
<circle cx="575.96" cy="285.1" r="4.0" fill="none" stroke="#111" stroke-width="1.0"/>
<circle cx="593.49" cy="279.58" r="4.0" fill="none" stroke="#111" stroke-width="1.0"/>
<circle cx="383.13" cy="362.24" r="4.0" fill="none" stroke="#111" stroke-width="1.0"/>
<circle cx="400.66" cy="424.45" r="4.0" fill="none" stroke="#111" stroke-width="1.0"/>
<circle cx="418.19" cy="393.67" r="4.0" fill="none" stroke="#111" stroke-width="1.0"/>
<circle cx="435.72" cy="364.57" r="4.0" fill="none" stroke="#111" stroke-width="1.0"/>
<circle cx="453.25" cy="388.54" r="4.0" fill="none" stroke="#111" stroke-width="1.0"/>
<circle cx="470.78" cy="325.81" r="4.0" fill="none" stroke="#111" stroke-width="1.0"/>
<circle cx="488.31" cy="318.6" r="4.0" fill="none" stroke="#111" stroke-width="1.0"/>
<circle cx="505.84" cy="309.26" r="4.0" fill="none" stroke="#111" stroke-width="1.0"/>
<circle cx="523.37" cy="299.88" r="4.0" fill="none" stroke="#111" stroke-width="1.0"/>
<circle cx="540.9" cy="291.49" r="4.0" fill="none" stroke="#111" stroke-width="1.0"/>
<circle cx="558.43" cy="288.58" r="4.0" fill="none" stroke="#111" stroke-width="1.0"/>
<circle cx="575.96" cy="283.99" r="4.0" fill="none" stroke="#111" stroke-width="1.0"/>
<circle cx="593.49" cy="279.01" r="4.0" fill="none" stroke="#111" stroke-width="1.0"/>
<circle cx="383.13" cy="370.97" r="4.0" fill="none" stroke="#111" stroke-width="1.0"/>
<circle cx="400.66" cy="407.81" r="4.0" fill="none" stroke="#111" stroke-width="1.0"/>
<circle cx="418.19" cy="402.21" r="4.0" fill="none" stroke="#111" stroke-width="1.0"/>
<circle cx="435.72" cy="365.02" r="4.0" fill="none" stroke="#111" stroke-width="1.0"/>
<circle cx="453.25" cy="388.45" r="4.0" fill="none" stroke="#111" stroke-width="1.0"/>
<circle cx="470.78" cy="327.86" r="4.0" fill="none" stroke="#111" stroke-width="1.0"/>
<circle cx="488.31" cy="319.9" r="4.0" fill="none" stroke="#111" stroke-width="1.0"/>
<circle cx="505.84" cy="309.63" r="4.0" fill="none" stroke="#111" stroke-width="1.0"/>
<circle cx="523.37" cy="302.61" r="4.0" fill="none" stroke="#111" stroke-width="1.0"/>
<circle cx="540.9" cy="294.31" r="4.0" fill="none" stroke="#111" stroke-width="1.0"/>
<circle cx="558.43" cy="288.23" r="4.0" fill="none" stroke="#111" stroke-width="1.0"/>
<circle cx="575.96" cy="282.43" r="4.0" fill="none" stroke="#111" stroke-width="1.0"/>
<circle cx="593.49" cy="280.22" r="4.0" fill="none" stroke="#111" stroke-width="1.0"/>
<circle cx="383.13" cy="357.95" r="4.0" fill="none" stroke="#111" stroke-width="1.0"/>
<circle cx="400.66" cy="419.45" r="4.0" fill="none" stroke="#111" stroke-width="1.0"/>
<circle cx="418.19" cy="399.19" r="4.0" fill="none" stroke="#111" stroke-width="1.0"/>
<circle cx="435.72" cy="363.88" r="4.0" fill="none" stroke="#111" stroke-width="1.0"/>
<circle cx="453.25" cy="382.68" r="4.0" fill="none" stroke="#111" stroke-width="1.0"/>
<circle cx="470.78" cy="326.54" r="4.0" fill="none" stroke="#111" stroke-width="1.0"/>
<circle cx="488.31" cy="316.18" r="4.0" fill="none" stroke="#111" stroke-width="1.0"/>
<circle cx="505.84" cy="307.15" r="4.0" fill="none" stroke="#111" stroke-width="1.0"/>
<circle cx="523.37" cy="300.3" r="4.0" fill="none" stroke="#111" stroke-width="1.0"/>
<circle cx="540.9" cy="290.73" r="4.0" fill="none" stroke="#111" stroke-width="1.0"/>
<circle cx="558.43" cy="288.47" r="4.0" fill="none" stroke="#111" stroke-width="1.0"/>
<circle cx="575.96" cy="282.33" r="4.0" fill="none" stroke="#111" stroke-width="1.0"/>
<circle cx="593.49" cy="281.45" r="4.0" fill="none" stroke="#111" stroke-width="1.0"/>
<circle cx="383.13" cy="357.27" r="4.0" fill="none" stroke="#111" stroke-width="1.0"/>
<circle cx="400.66" cy="419.58" r="4.0" fill="none" stroke="#111" stroke-width="1.0"/>
<circle cx="418.19" cy="385.12" r="4.0" fill="none" stroke="#111" stroke-width="1.0"/>
<circle cx="435.72" cy="369.87" r="4.0" fill="none" stroke="#111" stroke-width="1.0"/>
<circle cx="453.25" cy="405.51" r="4.0" fill="none" stroke="#111" stroke-width="1.0"/>
<circle cx="470.78" cy="323.39" r="4.0" fill="none" stroke="#111" stroke-width="1.0"/>
<circle cx="488.31" cy="316.22" r="4.0" fill="none" stroke="#111" stroke-width="1.0"/>
<circle cx="505.84" cy="306.26" r="4.0" fill="none" stroke="#111" stroke-width="1.0"/>
<circle cx="523.37" cy="301.44" r="4.0" fill="none" stroke="#111" stroke-width="1.0"/>
<circle cx="540.9" cy="291.66" r="4.0" fill="none" stroke="#111" stroke-width="1.0"/>
<circle cx="558.43" cy="286.25" r="4.0" fill="none" stroke="#111" stroke-width="1.0"/>
<circle cx="575.96" cy="284.24" r="4.0" fill="none" stroke="#111" stroke-width="1.0"/>
<circle cx="593.49" cy="278.58" r="4.0" fill="none" stroke="#111" stroke-width="1.0"/>
<circle cx="383.13" cy="356.34" r="4.0" fill="none" stroke="#111" stroke-width="1.0"/>
<circle cx="400.66" cy="411.53" r="4.0" fill="none" stroke="#111" stroke-width="1.0"/>
<circle cx="418.19" cy="391.3" r="4.0" fill="none" stroke="#111" stroke-width="1.0"/>
<circle cx="435.72" cy="369.11" r="4.0" fill="none" stroke="#111" stroke-width="1.0"/>
<circle cx="453.25" cy="400.66" r="4.0" fill="none" stroke="#111" stroke-width="1.0"/>
<circle cx="470.78" cy="347.73" r="4.0" fill="none" stroke="#111" stroke-width="1.0"/>
<circle cx="488.31" cy="339.57" r="4.0" fill="none" stroke="#111" stroke-width="1.0"/>
<circle cx="505.84" cy="330.32" r="4.0" fill="none" stroke="#111" stroke-width="1.0"/>
<circle cx="523.37" cy="323.87" r="4.0" fill="none" stroke="#111" stroke-width="1.0"/>
<circle cx="540.9" cy="319.04" r="4.0" fill="none" stroke="#111" stroke-width="1.0"/>
<circle cx="558.43" cy="310.19" r="4.0" fill="none" stroke="#111" stroke-width="1.0"/>
<circle cx="575.96" cy="307.79" r="4.0" fill="none" stroke="#111" stroke-width="1.0"/>
<circle cx="593.49" cy="301.99" r="4.0" fill="none" stroke="#111" stroke-width="1.0"/>
<circle cx="383.13" cy="369.48" r="4.0" fill="none" stroke="#111" stroke-width="1.0"/>
<circle cx="400.66" cy="416.03" r="4.0" fill="none" stroke="#111" stroke-width="1.0"/>
<circle cx="418.19" cy="391.87" r="4.0" fill="none" stroke="#111" stroke-width="1.0"/>
<circle cx="435.72" cy="367.88" r="4.0" fill="none" stroke="#111" stroke-width="1.0"/>
<circle cx="453.25" cy="406.28" r="4.0" fill="none" stroke="#111" stroke-width="1.0"/>
<circle cx="470.78" cy="349.27" r="4.0" fill="none" stroke="#111" stroke-width="1.0"/>
<circle cx="488.31" cy="341.55" r="4.0" fill="none" stroke="#111" stroke-width="1.0"/>
<circle cx="505.84" cy="332.69" r="4.0" fill="none" stroke="#111" stroke-width="1.0"/>
<circle cx="523.37" cy="326.35" r="4.0" fill="none" stroke="#111" stroke-width="1.0"/>
<circle cx="540.9" cy="320.38" r="4.0" fill="none" stroke="#111" stroke-width="1.0"/>
<circle cx="558.43" cy="313.18" r="4.0" fill="none" stroke="#111" stroke-width="1.0"/>
<circle cx="575.96" cy="309.39" r="4.0" fill="none" stroke="#111" stroke-width="1.0"/>
<circle cx="593.49" cy="305.29" r="4.0" fill="none" stroke="#111" stroke-width="1.0"/>
<polygon points="383.13,352.46 387.73,357.06 383.13,361.66 378.53,357.06" fill="#000" stroke="#000" stroke-width="0.6"/>
<polygon points="400.66,421.54 405.26,426.14 400.66,430.74 396.06,426.14" fill="#000" stroke="#000" stroke-width="0.6"/>
<polygon points="418.19,381.58 422.79,386.18 418.19,390.78 413.59,386.18" fill="#000" stroke="#000" stroke-width="0.6"/>
<polygon points="435.72,348.07 440.32,352.67 435.72,357.27 431.12,352.67" fill="#000" stroke="#000" stroke-width="0.6"/>
<polygon points="453.25,375.17 457.85,379.77 453.25,384.37 448.65,379.77" fill="#000" stroke="#000" stroke-width="0.6"/>
<polygon points="470.78,347.09 475.38,351.69 470.78,356.29 466.18,351.69" fill="#000" stroke="#000" stroke-width="0.6"/>
<polygon points="488.31,340.39 492.91,344.99 488.31,349.59 483.71,344.99" fill="#000" stroke="#000" stroke-width="0.6"/>
<polygon points="505.84,332.37 510.44,336.97 505.84,341.57 501.24,336.97" fill="#000" stroke="#000" stroke-width="0.6"/>
<polygon points="523.37,325.72 527.97,330.32 523.37,334.92 518.77,330.32" fill="#000" stroke="#000" stroke-width="0.6"/>
<polygon points="540.9,320.47 545.5,325.07 540.9,329.67 536.3,325.07" fill="#000" stroke="#000" stroke-width="0.6"/>
<polygon points="558.43,314.56 563.03,319.16 558.43,323.76 553.83,319.16" fill="#000" stroke="#000" stroke-width="0.6"/>
<polygon points="575.96,310.83 580.56,315.43 575.96,320.03 571.36,315.43" fill="#000" stroke="#000" stroke-width="0.6"/>
<polygon points="593.49,306.21 598.09,310.81 593.49,315.41 588.89,310.81" fill="#000" stroke="#000" stroke-width="0.6"/>
<polygon points="383.13,360.87 387.73,365.47 383.13,370.07 378.53,365.47" fill="#000" stroke="#000" stroke-width="0.6"/>
<polygon points="400.66,410.92 405.26,415.52 400.66,420.12 396.06,415.52" fill="#000" stroke="#000" stroke-width="0.6"/>
<polygon points="418.19,386.91 422.79,391.51 418.19,396.11 413.59,391.51" fill="#000" stroke="#000" stroke-width="0.6"/>
<polygon points="435.72,353.76 440.32,358.36 435.72,362.96 431.12,358.36" fill="#000" stroke="#000" stroke-width="0.6"/>
<polygon points="453.25,374.12 457.85,378.72 453.25,383.32 448.65,378.72" fill="#000" stroke="#000" stroke-width="0.6"/>
<polygon points="470.78,347.85 475.38,352.45 470.78,357.05 466.18,352.45" fill="#000" stroke="#000" stroke-width="0.6"/>
<polygon points="488.31,341.44 492.91,346.04 488.31,350.64 483.71,346.04" fill="#000" stroke="#000" stroke-width="0.6"/>
<polygon points="505.84,333.19 510.44,337.79 505.84,342.39 501.24,337.79" fill="#000" stroke="#000" stroke-width="0.6"/>
<polygon points="523.37,326.86 527.97,331.46 523.37,336.06 518.77,331.46" fill="#000" stroke="#000" stroke-width="0.6"/>
<polygon points="540.9,322.2 545.5,326.8 540.9,331.4 536.3,326.8" fill="#000" stroke="#000" stroke-width="0.6"/>
<polygon points="558.43,316.1 563.03,320.7 558.43,325.3 553.83,320.7" fill="#000" stroke="#000" stroke-width="0.6"/>
<polygon points="575.96,312.07 580.56,316.67 575.96,321.27 571.36,316.67" fill="#000" stroke="#000" stroke-width="0.6"/>
<polygon points="593.49,307.76 598.09,312.36 593.49,316.96 588.89,312.36" fill="#000" stroke="#000" stroke-width="0.6"/>
<circle cx="383.13" cy="359.06" r="4.0" fill="none" stroke="#111" stroke-width="1.0"/>
<circle cx="400.66" cy="420.67" r="4.0" fill="none" stroke="#111" stroke-width="1.0"/>
<circle cx="418.19" cy="384.8" r="4.0" fill="none" stroke="#111" stroke-width="1.0"/>
<circle cx="435.72" cy="361.66" r="4.0" fill="none" stroke="#111" stroke-width="1.0"/>
<circle cx="453.25" cy="392.96" r="4.0" fill="none" stroke="#111" stroke-width="1.0"/>
<circle cx="470.78" cy="352.84" r="4.0" fill="none" stroke="#111" stroke-width="1.0"/>
<circle cx="488.31" cy="346.58" r="4.0" fill="none" stroke="#111" stroke-width="1.0"/>
<circle cx="505.84" cy="338.66" r="4.0" fill="none" stroke="#111" stroke-width="1.0"/>
<circle cx="523.37" cy="330.88" r="4.0" fill="none" stroke="#111" stroke-width="1.0"/>
<circle cx="540.9" cy="325.92" r="4.0" fill="none" stroke="#111" stroke-width="1.0"/>
<circle cx="558.43" cy="319.76" r="4.0" fill="none" stroke="#111" stroke-width="1.0"/>
<circle cx="575.96" cy="315.92" r="4.0" fill="none" stroke="#111" stroke-width="1.0"/>
<circle cx="593.49" cy="311.57" r="4.0" fill="none" stroke="#111" stroke-width="1.0"/>
<circle cx="383.13" cy="358.22" r="4.0" fill="none" stroke="#111" stroke-width="1.0"/>
<circle cx="400.66" cy="426.7" r="4.0" fill="none" stroke="#111" stroke-width="1.0"/>
<circle cx="418.19" cy="386.97" r="4.0" fill="none" stroke="#111" stroke-width="1.0"/>
<circle cx="435.72" cy="357.73" r="4.0" fill="none" stroke="#111" stroke-width="1.0"/>
<circle cx="453.25" cy="397.11" r="4.0" fill="none" stroke="#111" stroke-width="1.0"/>
<circle cx="470.78" cy="354.06" r="4.0" fill="none" stroke="#111" stroke-width="1.0"/>
<circle cx="488.31" cy="349.27" r="4.0" fill="none" stroke="#111" stroke-width="1.0"/>
<circle cx="505.84" cy="343.77" r="4.0" fill="none" stroke="#111" stroke-width="1.0"/>
<circle cx="523.37" cy="340.93" r="4.0" fill="none" stroke="#111" stroke-width="1.0"/>
<circle cx="540.9" cy="331.94" r="4.0" fill="none" stroke="#111" stroke-width="1.0"/>
<circle cx="558.43" cy="328.03" r="4.0" fill="none" stroke="#111" stroke-width="1.0"/>
<circle cx="575.96" cy="322.39" r="4.0" fill="none" stroke="#111" stroke-width="1.0"/>
<circle cx="593.49" cy="320.76" r="4.0" fill="none" stroke="#111" stroke-width="1.0"/>
<circle cx="365.6" cy="357.81" r="4.0" fill="none" stroke="#111" stroke-width="1.0"/>
<circle cx="383.13" cy="335.42" r="4.0" fill="none" stroke="#111" stroke-width="1.0"/>
<circle cx="400.66" cy="340.53" r="4.0" fill="none" stroke="#111" stroke-width="1.0"/>
<circle cx="418.19" cy="336.97" r="4.0" fill="none" stroke="#111" stroke-width="1.0"/>
<circle cx="435.72" cy="327.74" r="4.0" fill="none" stroke="#111" stroke-width="1.0"/>
<circle cx="453.25" cy="323.12" r="4.0" fill="none" stroke="#111" stroke-width="1.0"/>
<circle cx="470.78" cy="321.7" r="4.0" fill="none" stroke="#111" stroke-width="1.0"/>
<circle cx="488.31" cy="317.46" r="4.0" fill="none" stroke="#111" stroke-width="1.0"/>
<circle cx="505.84" cy="310.09" r="4.0" fill="none" stroke="#111" stroke-width="1.0"/>
<circle cx="523.37" cy="304.11" r="4.0" fill="none" stroke="#111" stroke-width="1.0"/>
<circle cx="540.9" cy="299.65" r="4.0" fill="none" stroke="#111" stroke-width="1.0"/>
<circle cx="558.43" cy="295.3" r="4.0" fill="none" stroke="#111" stroke-width="1.0"/>
<circle cx="575.96" cy="291.81" r="4.0" fill="none" stroke="#111" stroke-width="1.0"/>
<circle cx="593.49" cy="288.89" r="4.0" fill="none" stroke="#111" stroke-width="1.0"/>
<circle cx="365.6" cy="368.14" r="4.0" fill="none" stroke="#111" stroke-width="1.0"/>
<circle cx="383.13" cy="357.3" r="4.0" fill="none" stroke="#111" stroke-width="1.0"/>
<circle cx="400.66" cy="360.64" r="4.0" fill="none" stroke="#111" stroke-width="1.0"/>
<circle cx="418.19" cy="360.64" r="4.0" fill="none" stroke="#111" stroke-width="1.0"/>
<circle cx="435.72" cy="346.04" r="4.0" fill="none" stroke="#111" stroke-width="1.0"/>
<circle cx="453.25" cy="365.54" r="4.0" fill="none" stroke="#111" stroke-width="1.0"/>
<circle cx="470.78" cy="335.42" r="4.0" fill="none" stroke="#111" stroke-width="1.0"/>
<circle cx="488.31" cy="326.35" r="4.0" fill="none" stroke="#111" stroke-width="1.0"/>
<circle cx="505.84" cy="316.42" r="4.0" fill="none" stroke="#111" stroke-width="1.0"/>
<circle cx="523.37" cy="310.09" r="4.0" fill="none" stroke="#111" stroke-width="1.0"/>
<circle cx="540.9" cy="304.11" r="4.0" fill="none" stroke="#111" stroke-width="1.0"/>
<circle cx="558.43" cy="299.65" r="4.0" fill="none" stroke="#111" stroke-width="1.0"/>
<circle cx="575.96" cy="296.09" r="4.0" fill="none" stroke="#111" stroke-width="1.0"/>
<circle cx="593.49" cy="293.12" r="4.0" fill="none" stroke="#111" stroke-width="1.0"/>
<circle cx="365.6" cy="379.02" r="4.0" fill="none" stroke="#111" stroke-width="1.0"/>
<circle cx="383.13" cy="363.27" r="4.0" fill="none" stroke="#111" stroke-width="1.0"/>
<circle cx="400.66" cy="379.02" r="4.0" fill="none" stroke="#111" stroke-width="1.0"/>
<circle cx="418.19" cy="370.44" r="4.0" fill="none" stroke="#111" stroke-width="1.0"/>
<circle cx="435.72" cy="354.93" r="4.0" fill="none" stroke="#111" stroke-width="1.0"/>
<circle cx="453.25" cy="372.11" r="4.0" fill="none" stroke="#111" stroke-width="1.0"/>
<circle cx="470.78" cy="338.66" r="4.0" fill="none" stroke="#111" stroke-width="1.0"/>
<circle cx="488.31" cy="329.24" r="4.0" fill="none" stroke="#111" stroke-width="1.0"/>
<circle cx="505.84" cy="319.16" r="4.0" fill="none" stroke="#111" stroke-width="1.0"/>
<circle cx="523.37" cy="312.76" r="4.0" fill="none" stroke="#111" stroke-width="1.0"/>
<circle cx="540.9" cy="306.85" r="4.0" fill="none" stroke="#111" stroke-width="1.0"/>
<circle cx="558.43" cy="301.74" r="4.0" fill="none" stroke="#111" stroke-width="1.0"/>
<circle cx="575.96" cy="297.78" r="4.0" fill="none" stroke="#111" stroke-width="1.0"/>
<circle cx="593.49" cy="294.54" r="4.0" fill="none" stroke="#111" stroke-width="1.0"/>
<circle cx="365.6" cy="409.98" r="4.0" fill="none" stroke="#111" stroke-width="1.0"/>
<circle cx="383.13" cy="367.23" r="4.0" fill="none" stroke="#111" stroke-width="1.0"/>
<circle cx="400.66" cy="392.2" r="4.0" fill="none" stroke="#111" stroke-width="1.0"/>
<circle cx="418.19" cy="381.41" r="4.0" fill="none" stroke="#111" stroke-width="1.0"/>
<circle cx="435.72" cy="360.04" r="4.0" fill="none" stroke="#111" stroke-width="1.0"/>
<circle cx="453.25" cy="379.54" r="4.0" fill="none" stroke="#111" stroke-width="1.0"/>
<circle cx="470.78" cy="340.53" r="4.0" fill="none" stroke="#111" stroke-width="1.0"/>
<circle cx="488.31" cy="331.46" r="4.0" fill="none" stroke="#111" stroke-width="1.0"/>
<circle cx="505.84" cy="321.7" r="4.0" fill="none" stroke="#111" stroke-width="1.0"/>
<circle cx="523.37" cy="314.96" r="4.0" fill="none" stroke="#111" stroke-width="1.0"/>
<circle cx="540.9" cy="309.39" r="4.0" fill="none" stroke="#111" stroke-width="1.0"/>
<circle cx="558.43" cy="304.11" r="4.0" fill="none" stroke="#111" stroke-width="1.0"/>
<circle cx="575.96" cy="299.65" r="4.0" fill="none" stroke="#111" stroke-width="1.0"/>
<circle cx="593.49" cy="296.09" r="4.0" fill="none" stroke="#111" stroke-width="1.0"/>
<polygon points="365.6,416.18 370.2,420.78 365.6,425.38 361,420.78" fill="#000" stroke="#000" stroke-width="0.6"/>
<polygon points="383.13,367.74 387.73,372.34 383.13,376.94 378.53,372.34" fill="#000" stroke="#000" stroke-width="0.6"/>
<polygon points="400.66,419.78 405.26,424.38 400.66,428.98 396.06,424.38" fill="#000" stroke="#000" stroke-width="0.6"/>
<polygon points="418.19,396.32 422.79,400.92 418.19,405.52 413.59,400.92" fill="#000" stroke="#000" stroke-width="0.6"/>
<polygon points="435.72,362.63 440.32,367.23 435.72,371.83 431.12,367.23" fill="#000" stroke="#000" stroke-width="0.6"/>
<polygon points="453.25,387.25 457.85,391.85 453.25,396.45 448.65,391.85" fill="#000" stroke="#000" stroke-width="0.6"/>
<polygon points="470.78,343.13 475.38,347.73 470.78,352.33 466.18,347.73" fill="#000" stroke="#000" stroke-width="0.6"/>
<polygon points="488.31,341.71 492.91,346.31 488.31,350.91 483.71,346.31" fill="#000" stroke="#000" stroke-width="0.6"/>
<polygon points="505.84,343.13 510.44,347.73 505.84,352.33 501.24,347.73" fill="#000" stroke="#000" stroke-width="0.6"/>
<polygon points="523.37,345.67 527.97,350.27 523.37,354.87 518.77,350.27" fill="#000" stroke="#000" stroke-width="0.6"/>
<polygon points="540.9,347.09 545.5,351.69 540.9,356.29 536.3,351.69" fill="#000" stroke="#000" stroke-width="0.6"/>
<polygon points="558.43,345.67 563.03,350.27 558.43,354.87 553.83,350.27" fill="#000" stroke="#000" stroke-width="0.6"/>
<polygon points="575.96,344.35 580.56,348.95 575.96,353.55 571.36,348.95" fill="#000" stroke="#000" stroke-width="0.6"/>
<polygon points="593.49,342.26 598.09,346.86 593.49,351.46 588.89,346.86" fill="#000" stroke="#000" stroke-width="0.6"/>
<circle cx="365.6" cy="434.6" r="4.0" fill="none" stroke="#111" stroke-width="1.0"/>
<circle cx="383.13" cy="376.3" r="4.0" fill="none" stroke="#111" stroke-width="1.0"/>
<circle cx="400.66" cy="420.42" r="4.0" fill="none" stroke="#111" stroke-width="1.0"/>
<circle cx="418.19" cy="395.81" r="4.0" fill="none" stroke="#111" stroke-width="1.0"/>
<circle cx="435.72" cy="363.27" r="4.0" fill="none" stroke="#111" stroke-width="1.0"/>
<circle cx="453.25" cy="400.92" r="4.0" fill="none" stroke="#111" stroke-width="1.0"/>
<circle cx="470.78" cy="344.99" r="4.0" fill="none" stroke="#111" stroke-width="1.0"/>
<circle cx="488.31" cy="342.62" r="4.0" fill="none" stroke="#111" stroke-width="1.0"/>
<circle cx="505.84" cy="338.66" r="4.0" fill="none" stroke="#111" stroke-width="1.0"/>
<circle cx="523.37" cy="342.18" r="4.0" fill="none" stroke="#111" stroke-width="1.0"/>
<circle cx="540.9" cy="342.18" r="4.0" fill="none" stroke="#111" stroke-width="1.0"/>
<circle cx="558.43" cy="341.13" r="4.0" fill="none" stroke="#111" stroke-width="1.0"/>
<circle cx="575.96" cy="337.46" r="4.0" fill="none" stroke="#111" stroke-width="1.0"/>
<circle cx="593.49" cy="337.63" r="4.0" fill="none" stroke="#111" stroke-width="1.0"/>
<circle cx="365.6" cy="453.75" r="4.0" fill="none" stroke="#111" stroke-width="1.0"/>
<circle cx="383.13" cy="378.01" r="4.0" fill="none" stroke="#111" stroke-width="1.0"/>
<circle cx="400.66" cy="417.18" r="4.0" fill="none" stroke="#111" stroke-width="1.0"/>
<circle cx="418.19" cy="398.18" r="4.0" fill="none" stroke="#111" stroke-width="1.0"/>
<circle cx="435.72" cy="369.1" r="4.0" fill="none" stroke="#111" stroke-width="1.0"/>
<circle cx="453.25" cy="408.11" r="4.0" fill="none" stroke="#111" stroke-width="1.0"/>
<circle cx="470.78" cy="349.27" r="4.0" fill="none" stroke="#111" stroke-width="1.0"/>
<circle cx="488.31" cy="349.27" r="4.0" fill="none" stroke="#111" stroke-width="1.0"/>
<circle cx="505.84" cy="350.97" r="4.0" fill="none" stroke="#111" stroke-width="1.0"/>
<circle cx="523.37" cy="353.24" r="4.0" fill="none" stroke="#111" stroke-width="1.0"/>
<circle cx="540.9" cy="354.06" r="4.0" fill="none" stroke="#111" stroke-width="1.0"/>
<circle cx="558.43" cy="352.45" r="4.0" fill="none" stroke="#111" stroke-width="1.0"/>
<circle cx="575.96" cy="350.97" r="4.0" fill="none" stroke="#111" stroke-width="1.0"/>
<circle cx="593.49" cy="349.93" r="4.0" fill="none" stroke="#111" stroke-width="1.0"/>
<rect x="360.9" y="297.49" width="9.4" height="9.4" fill="none" stroke="#111" stroke-width="1.1"/>
<rect x="378.43" y="299.93" width="9.4" height="9.4" fill="none" stroke="#111" stroke-width="1.1"/>
<rect x="395.96" y="302.75" width="9.4" height="9.4" fill="none" stroke="#111" stroke-width="1.1"/>
<rect x="413.49" y="306.48" width="9.4" height="9.4" fill="none" stroke="#111" stroke-width="1.1"/>
<rect x="431.02" y="311.72" width="9.4" height="9.4" fill="none" stroke="#111" stroke-width="1.1"/>
<rect x="448.55" y="317.69" width="9.4" height="9.4" fill="none" stroke="#111" stroke-width="1.1"/>
<rect x="466.08" y="316.33" width="9.4" height="9.4" fill="none" stroke="#111" stroke-width="1.1"/>
<rect x="483.61" y="317.69" width="9.4" height="9.4" fill="none" stroke="#111" stroke-width="1.1"/>
<rect x="501.14" y="311.72" width="9.4" height="9.4" fill="none" stroke="#111" stroke-width="1.1"/>
<rect x="518.67" y="307.26" width="9.4" height="9.4" fill="none" stroke="#111" stroke-width="1.1"/>
<rect x="536.2" y="303.69" width="9.4" height="9.4" fill="none" stroke="#111" stroke-width="1.1"/>
<rect x="553.73" y="300.73" width="9.4" height="9.4" fill="none" stroke="#111" stroke-width="1.1"/>
<rect x="571.26" y="298.19" width="9.4" height="9.4" fill="none" stroke="#111" stroke-width="1.1"/>
<rect x="588.79" y="295.97" width="9.4" height="9.4" fill="none" stroke="#111" stroke-width="1.1"/>
</g>
<rect x="348.4" y="256.9" width="262.2" height="204.4" fill="none" stroke="#222" stroke-width="1.5"/>
<rect x="348.4" y="256.9" width="21.6" height="14.5" fill="#fff" stroke="#333" stroke-width="1.1"/>
<text x="359.2" y="267.9" font-size="12.5" text-anchor="middle" fill="#111" stroke="#111" stroke-width="0.2" >e</text>
<text x="343" y="260.8" font-size="9.8" text-anchor="end" fill="#111" stroke="#111" stroke-width="0.2" >10000</text>
<text x="343" y="301.68" font-size="9.8" text-anchor="end" fill="#111" stroke="#111" stroke-width="0.2" >1000</text>
<text x="343" y="342.56" font-size="9.8" text-anchor="end" fill="#111" stroke="#111" stroke-width="0.2" >100</text>
<text x="343" y="383.44" font-size="9.8" text-anchor="end" fill="#111" stroke="#111" stroke-width="0.2" >10</text>
<text x="343" y="424.32" font-size="9.8" text-anchor="end" fill="#111" stroke="#111" stroke-width="0.2" >1</text>
<text x="343" y="465.2" font-size="9.8" text-anchor="end" fill="#111" stroke="#111" stroke-width="0.2" >0.1</text>
<text x="366.4" y="475" font-size="9.8" text-anchor="middle" fill="#111" stroke="#111" stroke-width="0.2" >La</text>
<text x="381.93" y="453.6" font-size="9.8" text-anchor="middle" fill="#111" stroke="#111" stroke-width="0.2" >Ce</text>
<text x="401.46" y="475" font-size="9.8" text-anchor="middle" fill="#111" stroke="#111" stroke-width="0.2" >Pr</text>
<text x="416.99" y="453.6" font-size="9.8" text-anchor="middle" fill="#111" stroke="#111" stroke-width="0.2" >Nd</text>
<text x="436.52" y="475" font-size="9.8" text-anchor="middle" fill="#111" stroke="#111" stroke-width="0.2" >Sm</text>
<text x="452.05" y="453.6" font-size="9.8" text-anchor="middle" fill="#111" stroke="#111" stroke-width="0.2" >Eu</text>
<text x="471.58" y="475" font-size="9.8" text-anchor="middle" fill="#111" stroke="#111" stroke-width="0.2" >Gd</text>
<text x="487.11" y="453.6" font-size="9.8" text-anchor="middle" fill="#111" stroke="#111" stroke-width="0.2" >Tb</text>
<text x="506.64" y="475" font-size="9.8" text-anchor="middle" fill="#111" stroke="#111" stroke-width="0.2" >Dy</text>
<text x="522.17" y="453.6" font-size="9.8" text-anchor="middle" fill="#111" stroke="#111" stroke-width="0.2" >Ho</text>
<text x="541.7" y="475" font-size="9.8" text-anchor="middle" fill="#111" stroke="#111" stroke-width="0.2" >Er</text>
<text x="557.23" y="453.6" font-size="9.8" text-anchor="middle" fill="#111" stroke="#111" stroke-width="0.2" >Tm</text>
<text x="576.76" y="475" font-size="9.8" text-anchor="middle" fill="#111" stroke="#111" stroke-width="0.2" >Yb</text>
<text x="592.29" y="453.6" font-size="9.8" text-anchor="middle" fill="#111" stroke="#111" stroke-width="0.2" >Lu</text>
<g transform="translate(321.5,384) rotate(-90)">
<text x="0" y="0" font-size="8.93" font-weight="400" font-family="'Noto Serif CJK SC','Liberation Serif',serif" fill="#222" textLength="62" lengthAdjust="spacing">样品/球粒陨石</text>
</g>
<g transform="translate(316.3,453.7) rotate(-45)"><text x="0" y="0" font-size="52" font-style="italic" letter-spacing="2.6" fill="none" stroke="#c4c4c4" stroke-width="1.1">kcdz.ac.cn/</text><text x="-3" y="0" font-size="52" font-style="italic" letter-spacing="2.6" fill="none" stroke="#c4c4c4" stroke-width="1.1" text-anchor="end">www.</text></g>
</svg>
</body></html>
